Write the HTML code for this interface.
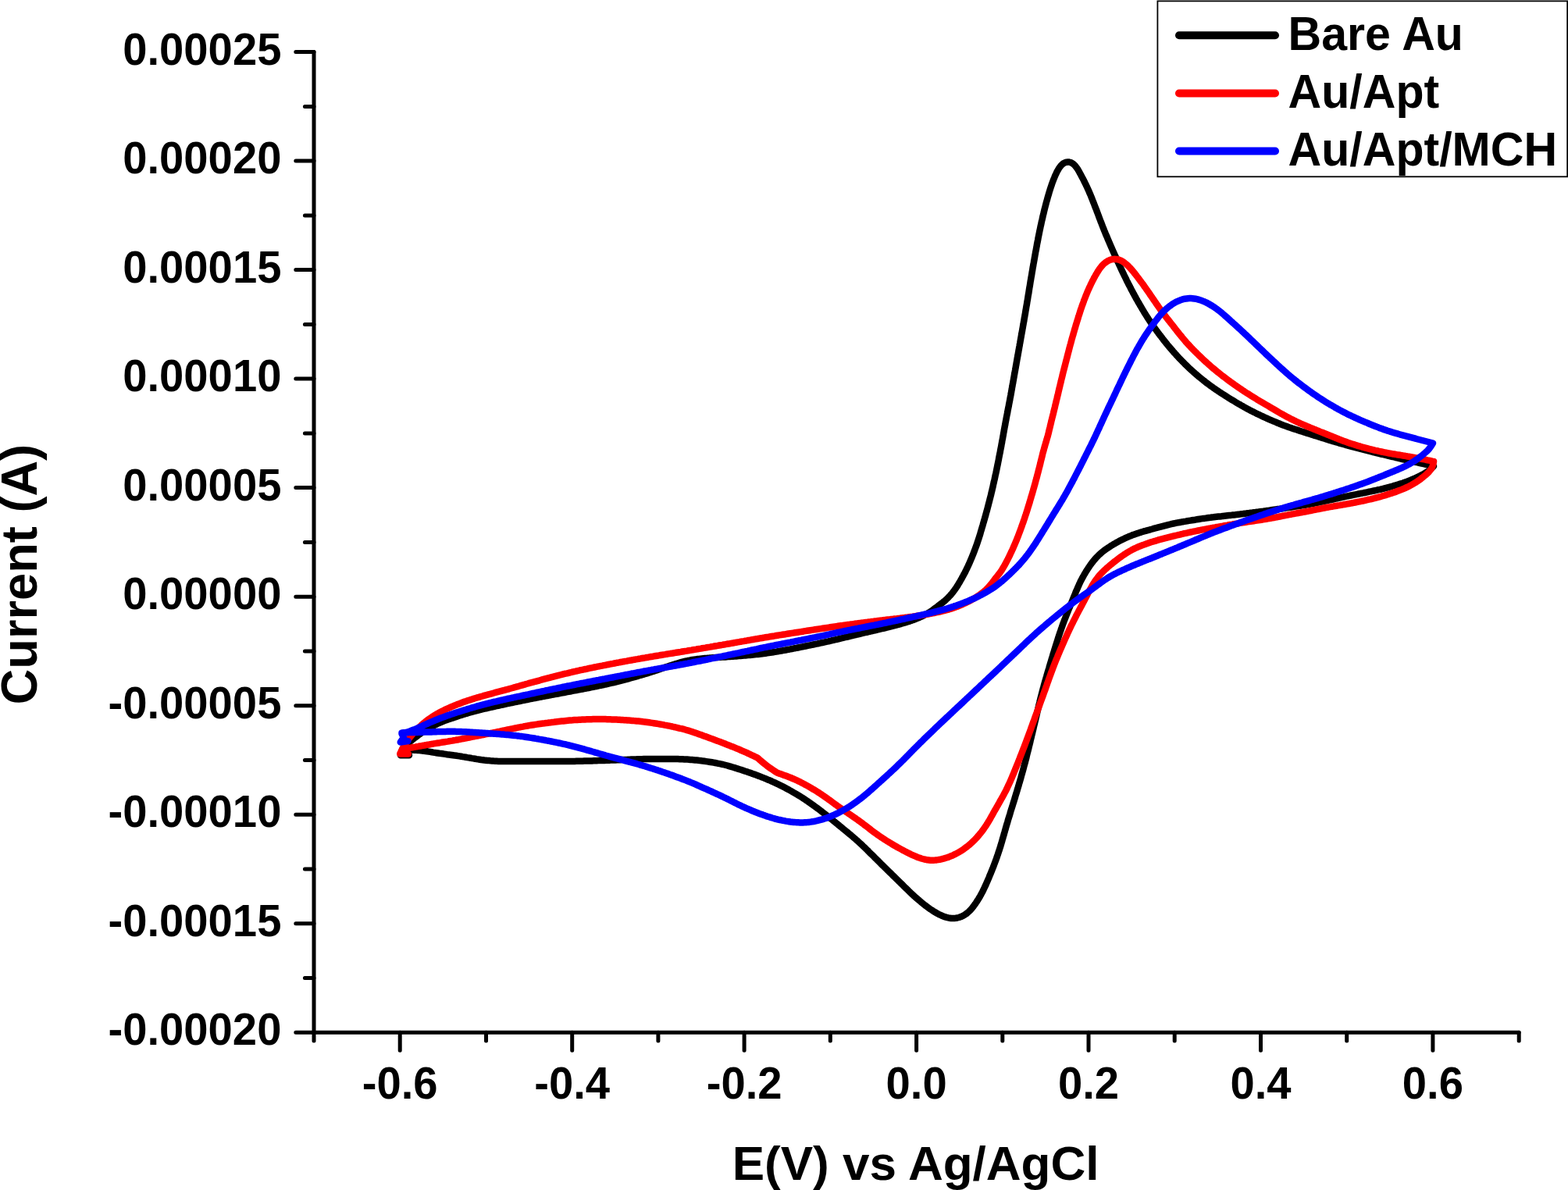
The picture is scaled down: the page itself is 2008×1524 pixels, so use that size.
<!DOCTYPE html>
<html lang="en"><head><meta charset="utf-8"><title>Cyclic voltammogram</title>
<style>html,body{margin:0;padding:0;background:#fff;overflow:hidden}svg{display:block}</style></head>
<body>
<svg width="2008" height="1524" viewBox="0 0 2008 1524">
<rect width="2008" height="1524" fill="#fff"/>
<path d="M524.0,967.3 L513.0,967.3 L515.0,960.0 L516.3,958.5 L517.5,957.0 L518.9,955.5 L520.2,954.1 L521.6,952.7 L523.1,951.4 L524.6,950.1 L526.1,948.9 L527.7,947.6 L529.3,946.4 L530.8,945.2 L532.4,944.0 L534.0,942.8 L535.6,941.6 L537.2,940.4 L538.8,939.3 L540.5,938.1 L542.2,937.0 L543.8,936.0 L545.5,934.9 L547.3,933.9 L549.0,932.9 L550.7,931.9 L552.5,930.9 L554.2,930.0 L556.0,929.0 L557.8,928.1 L559.6,927.2 L561.4,926.4 L563.2,925.6 L565.0,924.8 L566.9,924.0 L568.7,923.3 L570.6,922.6 L572.5,921.9 L574.4,921.3 L576.3,920.6 L578.2,920.0 L580.0,919.4 L581.9,918.7 L583.8,918.1 L585.7,917.5 L587.6,916.8 L589.5,916.2 L591.4,915.6 L593.4,915.0 L595.3,914.4 L597.2,913.8 L599.1,913.3 L601.0,912.7 L602.9,912.2 L604.9,911.6 L606.8,911.1 L608.7,910.6 L610.7,910.1 L612.6,909.6 L614.5,909.1 L616.5,908.6 L618.4,908.2 L620.4,907.7 L622.3,907.3 L624.3,906.8 L626.2,906.4 L628.2,905.9 L630.1,905.5 L632.1,905.1 L634.0,904.6 L636.0,904.2 L637.9,903.8 L639.9,903.3 L641.9,902.9 L643.8,902.5 L645.8,902.1 L647.7,901.7 L649.7,901.2 L651.6,900.8 L653.6,900.4 L655.5,900.0 L657.5,899.6 L659.5,899.2 L661.4,898.8 L663.4,898.4 L665.3,898.0 L667.3,897.6 L669.3,897.2 L671.2,896.8 L673.2,896.4 L675.1,896.0 L677.1,895.6 L679.1,895.2 L681.0,894.8 L683.0,894.4 L685.0,894.0 L686.9,893.7 L688.9,893.3 L690.8,892.9 L692.8,892.5 L694.8,892.1 L696.7,891.8 L698.7,891.4 L700.7,891.0 L702.6,890.7 L704.6,890.3 L706.6,889.9 L708.5,889.6 L710.5,889.2 L712.5,888.8 L714.4,888.5 L716.4,888.1 L718.4,887.7 L720.3,887.3 L722.3,887.0 L724.3,886.6 L726.2,886.2 L728.2,885.8 L730.2,885.5 L732.1,885.1 L734.1,884.7 L736.0,884.3 L738.0,884.0 L740.0,883.6 L741.9,883.2 L743.9,882.9 L745.9,882.5 L747.8,882.1 L749.8,881.7 L751.8,881.4 L753.7,881.0 L755.7,880.6 L757.7,880.2 L759.6,879.8 L761.6,879.4 L763.5,879.0 L765.5,878.6 L767.5,878.2 L769.4,877.8 L771.4,877.4 L773.3,877.0 L775.3,876.5 L777.2,876.1 L779.2,875.6 L781.1,875.2 L783.1,874.7 L785.0,874.3 L787.0,873.8 L788.9,873.3 L790.8,872.8 L792.8,872.3 L794.7,871.8 L796.7,871.3 L798.6,870.8 L800.5,870.3 L802.5,869.8 L804.4,869.3 L806.3,868.8 L808.3,868.2 L810.2,867.7 L812.1,867.2 L814.0,866.6 L816.0,866.1 L817.9,865.5 L819.8,865.0 L821.7,864.4 L823.6,863.9 L825.6,863.3 L827.5,862.7 L829.4,862.1 L831.3,861.5 L833.2,860.9 L835.1,860.3 L837.0,859.7 L838.9,859.0 L840.8,858.4 L842.7,857.7 L844.6,857.1 L846.5,856.4 L848.4,855.8 L850.2,855.1 L852.1,854.5 L854.0,853.9 L855.9,853.2 L857.8,852.6 L859.7,852.0 L861.6,851.4 L863.5,850.7 L865.5,850.1 L867.4,849.6 L869.3,849.0 L871.2,848.4 L873.1,847.9 L875.1,847.4 L877.0,846.9 L878.9,846.5 L880.9,846.0 L882.9,845.7 L884.8,845.3 L886.8,845.0 L888.8,844.7 L890.7,844.4 L892.7,844.1 L894.7,843.9 L896.7,843.7 L898.7,843.5 L900.7,843.3 L902.7,843.1 L904.7,842.9 L906.7,842.7 L908.6,842.6 L910.6,842.4 L912.6,842.3 L914.6,842.2 L916.6,842.1 L918.6,842.0 L920.6,841.8 L922.6,841.7 L924.6,841.6 L926.6,841.5 L928.6,841.4 L930.6,841.2 L932.6,841.1 L934.6,841.0 L936.6,840.8 L938.6,840.7 L940.6,840.5 L942.6,840.4 L944.6,840.2 L946.6,840.1 L948.6,839.9 L950.6,839.8 L952.5,839.6 L954.5,839.4 L956.5,839.2 L958.5,839.1 L960.5,838.9 L962.5,838.7 L964.5,838.5 L966.5,838.3 L968.5,838.1 L970.5,837.9 L972.5,837.7 L974.4,837.4 L976.4,837.2 L978.4,836.9 L980.4,836.7 L982.4,836.4 L984.4,836.1 L986.3,835.8 L988.3,835.5 L990.3,835.2 L992.3,834.9 L994.2,834.6 L996.2,834.2 L998.2,833.9 L1000.1,833.5 L1002.1,833.2 L1004.1,832.8 L1006.1,832.5 L1008.0,832.1 L1010.0,831.7 L1011.9,831.4 L1013.9,831.0 L1015.9,830.6 L1017.8,830.2 L1019.8,829.9 L1021.8,829.5 L1023.7,829.1 L1025.7,828.7 L1027.7,828.3 L1029.6,827.9 L1031.6,827.5 L1033.5,827.1 L1035.5,826.7 L1037.5,826.3 L1039.4,825.9 L1041.4,825.5 L1043.3,825.1 L1045.3,824.7 L1047.2,824.3 L1049.2,823.8 L1051.2,823.4 L1053.1,823.0 L1055.1,822.6 L1057.0,822.2 L1059.0,821.7 L1060.9,821.3 L1062.9,820.8 L1064.8,820.4 L1066.8,819.9 L1068.7,819.5 L1070.7,819.0 L1072.6,818.6 L1074.6,818.1 L1076.5,817.6 L1078.5,817.2 L1080.4,816.7 L1082.3,816.2 L1084.3,815.8 L1086.2,815.3 L1088.2,814.8 L1090.1,814.4 L1092.1,813.9 L1094.0,813.4 L1096.0,813.0 L1097.9,812.5 L1099.9,812.1 L1101.8,811.6 L1103.7,811.1 L1105.7,810.7 L1107.6,810.2 L1109.6,809.8 L1111.5,809.3 L1113.5,808.9 L1115.4,808.4 L1117.4,808.0 L1119.3,807.5 L1121.3,807.1 L1123.2,806.6 L1125.2,806.2 L1127.1,805.7 L1129.1,805.2 L1131.0,804.8 L1133.0,804.3 L1134.9,803.8 L1136.8,803.4 L1138.8,802.9 L1140.7,802.4 L1142.7,801.9 L1144.6,801.4 L1146.5,800.9 L1148.5,800.4 L1150.4,799.8 L1152.3,799.3 L1154.2,798.8 L1156.2,798.2 L1158.1,797.6 L1160.0,797.1 L1161.9,796.5 L1163.8,795.9 L1165.7,795.2 L1167.6,794.6 L1169.5,793.9 L1171.4,793.2 L1173.2,792.5 L1175.1,791.7 L1176.9,791.0 L1178.7,790.2 L1180.6,789.3 L1182.4,788.5 L1184.1,787.6 L1185.9,786.6 L1187.6,785.7 L1189.3,784.6 L1191.0,783.6 L1192.7,782.5 L1194.3,781.4 L1195.9,780.2 L1197.5,779.0 L1199.1,777.8 L1200.7,776.6 L1202.2,775.4 L1203.8,774.2 L1205.4,773.0 L1207.0,771.8 L1208.5,770.5 L1210.1,769.3 L1211.5,767.9 L1213.0,766.6 L1214.4,765.2 L1215.8,763.7 L1217.1,762.3 L1218.4,760.7 L1219.7,759.2 L1220.9,757.6 L1222.1,756.0 L1223.3,754.4 L1224.4,752.8 L1225.5,751.1 L1226.6,749.4 L1227.6,747.7 L1228.6,746.0 L1229.6,744.3 L1230.6,742.5 L1231.6,740.8 L1232.5,739.0 L1233.5,737.3 L1234.4,735.5 L1235.4,733.8 L1236.3,732.0 L1237.2,730.2 L1238.1,728.4 L1238.9,726.6 L1239.8,724.8 L1240.6,723.0 L1241.4,721.2 L1242.2,719.3 L1243.0,717.5 L1243.8,715.6 L1244.6,713.8 L1245.3,711.9 L1246.1,710.1 L1246.8,708.2 L1247.5,706.4 L1248.2,704.5 L1248.9,702.6 L1249.6,700.7 L1250.3,698.9 L1251.0,697.0 L1251.6,695.1 L1252.2,693.2 L1252.9,691.3 L1253.5,689.4 L1254.1,687.5 L1254.7,685.6 L1255.3,683.7 L1255.8,681.7 L1256.4,679.8 L1257.0,677.9 L1257.5,676.0 L1258.1,674.1 L1258.7,672.1 L1259.2,670.2 L1259.8,668.3 L1260.3,666.4 L1260.9,664.5 L1261.4,662.5 L1262.0,660.6 L1262.5,658.7 L1263.0,656.7 L1263.6,654.8 L1264.1,652.9 L1264.6,651.0 L1265.1,649.0 L1265.6,647.1 L1266.1,645.2 L1266.6,643.2 L1267.1,641.3 L1267.6,639.3 L1268.1,637.4 L1268.6,635.5 L1269.1,633.5 L1269.5,631.6 L1270.0,629.6 L1270.5,627.7 L1270.9,625.7 L1271.4,623.8 L1271.8,621.8 L1272.2,619.9 L1272.7,617.9 L1273.1,616.0 L1273.6,614.0 L1274.0,612.1 L1274.4,610.1 L1274.8,608.2 L1275.3,606.2 L1275.7,604.3 L1276.1,602.3 L1276.5,600.3 L1276.9,598.4 L1277.3,596.4 L1277.7,594.5 L1278.1,592.5 L1278.5,590.5 L1278.9,588.6 L1279.2,586.6 L1279.6,584.6 L1280.0,582.7 L1280.4,580.7 L1280.8,578.8 L1281.1,576.8 L1281.5,574.8 L1281.9,572.9 L1282.3,570.9 L1282.6,568.9 L1283.0,567.0 L1283.3,565.0 L1283.7,563.0 L1284.1,561.1 L1284.4,559.1 L1284.8,557.1 L1285.1,555.1 L1285.5,553.2 L1285.8,551.2 L1286.2,549.2 L1286.5,547.3 L1286.9,545.3 L1287.3,543.3 L1287.6,541.4 L1288.0,539.4 L1288.4,537.4 L1288.7,535.5 L1289.1,533.5 L1289.5,531.5 L1289.9,529.6 L1290.3,527.6 L1290.6,525.7 L1291.0,523.7 L1291.4,521.7 L1291.8,519.8 L1292.1,517.8 L1292.5,515.8 L1292.9,513.9 L1293.3,511.9 L1293.6,509.9 L1294.0,508.0 L1294.4,506.0 L1294.7,504.0 L1295.1,502.1 L1295.4,500.1 L1295.8,498.1 L1296.1,496.2 L1296.5,494.2 L1296.8,492.2 L1297.2,490.3 L1297.5,488.3 L1297.9,486.3 L1298.2,484.3 L1298.6,482.4 L1298.9,480.4 L1299.3,478.4 L1299.6,476.5 L1300.0,474.5 L1300.3,472.5 L1300.7,470.6 L1301.0,468.6 L1301.4,466.6 L1301.7,464.6 L1302.1,462.7 L1302.4,460.7 L1302.8,458.7 L1303.1,456.8 L1303.5,454.8 L1303.8,452.8 L1304.2,450.9 L1304.5,448.9 L1304.9,446.9 L1305.2,445.0 L1305.6,443.0 L1305.9,441.0 L1306.3,439.0 L1306.6,437.1 L1307.0,435.1 L1307.3,433.1 L1307.7,431.2 L1308.0,429.2 L1308.4,427.2 L1308.7,425.3 L1309.1,423.3 L1309.4,421.3 L1309.8,419.4 L1310.1,417.4 L1310.5,415.4 L1310.8,413.4 L1311.2,411.5 L1311.5,409.5 L1311.8,407.5 L1312.2,405.6 L1312.5,403.6 L1312.9,401.6 L1313.2,399.6 L1313.5,397.7 L1313.9,395.7 L1314.2,393.7 L1314.5,391.8 L1314.9,389.8 L1315.2,387.8 L1315.5,385.8 L1315.9,383.9 L1316.2,381.9 L1316.5,379.9 L1316.8,377.9 L1317.2,376.0 L1317.5,374.0 L1317.8,372.0 L1318.1,370.0 L1318.4,368.1 L1318.8,366.1 L1319.1,364.1 L1319.4,362.2 L1319.7,360.2 L1320.1,358.2 L1320.4,356.2 L1320.7,354.3 L1321.1,352.3 L1321.4,350.3 L1321.7,348.3 L1322.1,346.4 L1322.4,344.4 L1322.7,342.4 L1323.1,340.5 L1323.4,338.5 L1323.8,336.5 L1324.1,334.5 L1324.5,332.6 L1324.8,330.6 L1325.2,328.6 L1325.5,326.7 L1325.9,324.7 L1326.2,322.7 L1326.6,320.8 L1327.0,318.8 L1327.3,316.8 L1327.7,314.9 L1328.0,312.9 L1328.4,310.9 L1328.8,309.0 L1329.2,307.0 L1329.5,305.0 L1329.9,303.1 L1330.3,301.1 L1330.7,299.1 L1331.1,297.2 L1331.5,295.2 L1331.9,293.3 L1332.3,291.3 L1332.7,289.4 L1333.2,287.4 L1333.6,285.4 L1334.0,283.5 L1334.5,281.5 L1334.9,279.6 L1335.4,277.6 L1335.8,275.7 L1336.3,273.8 L1336.8,271.8 L1337.2,269.9 L1337.7,267.9 L1338.2,266.0 L1338.7,264.0 L1339.2,262.1 L1339.7,260.2 L1340.2,258.2 L1340.8,256.3 L1341.3,254.4 L1341.8,252.5 L1342.4,250.5 L1343.0,248.6 L1343.5,246.7 L1344.1,244.8 L1344.7,242.9 L1345.3,241.0 L1345.9,239.1 L1346.6,237.2 L1347.2,235.3 L1347.9,233.4 L1348.6,231.5 L1349.3,229.7 L1350.1,227.8 L1350.8,226.0 L1351.6,224.1 L1352.5,222.3 L1353.3,220.5 L1354.2,218.8 L1355.2,217.1 L1356.2,215.4 L1357.3,213.8 L1358.5,212.3 L1359.8,211.0 L1361.2,209.8 L1362.6,208.8 L1364.2,208.1 L1365.8,207.7 L1367.5,207.5 L1369.2,207.6 L1370.8,208.0 L1372.4,208.7 L1373.9,209.6 L1375.3,210.8 L1376.6,212.1 L1377.8,213.5 L1379.0,215.1 L1380.1,216.7 L1381.1,218.4 L1382.1,220.1 L1383.0,221.9 L1384.0,223.6 L1384.9,225.4 L1385.8,227.2 L1386.8,228.9 L1387.7,230.7 L1388.6,232.5 L1389.5,234.3 L1390.4,236.1 L1391.2,237.9 L1392.1,239.7 L1392.9,241.5 L1393.7,243.3 L1394.5,245.1 L1395.3,247.0 L1396.1,248.8 L1396.9,250.7 L1397.6,252.5 L1398.4,254.4 L1399.1,256.2 L1399.8,258.1 L1400.6,260.0 L1401.3,261.8 L1402.0,263.7 L1402.7,265.6 L1403.5,267.4 L1404.2,269.3 L1404.9,271.2 L1405.6,273.0 L1406.3,274.9 L1407.0,276.8 L1407.7,278.7 L1408.4,280.5 L1409.1,282.4 L1409.8,284.3 L1410.6,286.1 L1411.3,288.0 L1412.0,289.9 L1412.7,291.7 L1413.5,293.6 L1414.2,295.4 L1415.0,297.3 L1415.7,299.1 L1416.5,301.0 L1417.3,302.8 L1418.1,304.7 L1418.8,306.5 L1419.6,308.3 L1420.4,310.2 L1421.2,312.0 L1422.0,313.9 L1422.8,315.7 L1423.6,317.5 L1424.4,319.4 L1425.2,321.2 L1426.0,323.0 L1426.8,324.8 L1427.6,326.7 L1428.5,328.5 L1429.3,330.3 L1430.1,332.2 L1430.9,334.0 L1431.8,335.8 L1432.6,337.6 L1433.4,339.4 L1434.3,341.2 L1435.1,343.1 L1436.0,344.9 L1436.8,346.7 L1437.7,348.5 L1438.6,350.3 L1439.4,352.1 L1440.3,353.9 L1441.2,355.7 L1442.1,357.5 L1442.9,359.3 L1443.8,361.1 L1444.7,362.8 L1445.6,364.6 L1446.6,366.4 L1447.5,368.2 L1448.4,370.0 L1449.3,371.7 L1450.3,373.5 L1451.2,375.3 L1452.2,377.0 L1453.1,378.8 L1454.1,380.5 L1455.0,382.3 L1456.0,384.0 L1457.0,385.8 L1458.0,387.5 L1459.0,389.2 L1460.0,391.0 L1461.0,392.7 L1462.0,394.4 L1463.0,396.1 L1464.1,397.9 L1465.1,399.6 L1466.1,401.3 L1467.2,403.0 L1468.3,404.7 L1469.3,406.4 L1470.4,408.0 L1471.5,409.7 L1472.6,411.4 L1473.7,413.0 L1474.9,414.7 L1476.0,416.3 L1477.2,418.0 L1478.3,419.6 L1479.5,421.2 L1480.7,422.8 L1481.8,424.4 L1483.0,426.0 L1484.2,427.6 L1485.4,429.2 L1486.7,430.8 L1487.9,432.4 L1489.1,434.0 L1490.3,435.6 L1491.6,437.1 L1492.8,438.7 L1494.1,440.3 L1495.3,441.8 L1496.6,443.4 L1497.9,444.9 L1499.2,446.4 L1500.5,447.9 L1501.8,449.4 L1503.1,451.0 L1504.4,452.4 L1505.8,453.9 L1507.1,455.4 L1508.5,456.9 L1509.8,458.3 L1511.2,459.8 L1512.6,461.2 L1514.0,462.7 L1515.4,464.1 L1516.8,465.5 L1518.2,466.9 L1519.7,468.3 L1521.1,469.7 L1522.5,471.1 L1524.0,472.5 L1525.5,473.8 L1527.0,475.2 L1528.4,476.5 L1529.9,477.8 L1531.4,479.1 L1533.0,480.4 L1534.5,481.7 L1536.0,483.0 L1537.6,484.3 L1539.1,485.5 L1540.7,486.8 L1542.3,488.0 L1543.8,489.3 L1545.4,490.5 L1547.0,491.7 L1548.6,492.9 L1550.2,494.1 L1551.9,495.2 L1553.5,496.4 L1555.1,497.5 L1556.8,498.7 L1558.4,499.8 L1560.1,500.9 L1561.7,502.0 L1563.4,503.1 L1565.1,504.2 L1566.8,505.3 L1568.5,506.4 L1570.1,507.4 L1571.8,508.5 L1573.5,509.6 L1575.2,510.6 L1576.9,511.7 L1578.7,512.7 L1580.4,513.7 L1582.1,514.8 L1583.8,515.8 L1585.5,516.8 L1587.2,517.8 L1589.0,518.8 L1590.7,519.8 L1592.5,520.8 L1594.2,521.8 L1595.9,522.7 L1597.7,523.7 L1599.5,524.6 L1601.2,525.6 L1603.0,526.5 L1604.8,527.4 L1606.6,528.3 L1608.4,529.2 L1610.2,530.1 L1612.0,530.9 L1613.8,531.8 L1615.6,532.7 L1617.4,533.5 L1619.2,534.3 L1621.0,535.2 L1622.9,536.0 L1624.7,536.8 L1626.5,537.6 L1628.3,538.4 L1630.2,539.2 L1632.0,539.9 L1633.9,540.7 L1635.7,541.5 L1637.6,542.2 L1639.4,543.0 L1641.3,543.7 L1643.2,544.4 L1645.0,545.1 L1646.9,545.8 L1648.8,546.5 L1650.7,547.2 L1652.6,547.8 L1654.5,548.5 L1656.4,549.1 L1658.3,549.7 L1660.2,550.3 L1662.1,550.9 L1664.0,551.6 L1665.9,552.2 L1667.8,552.8 L1669.7,553.4 L1671.6,554.0 L1673.5,554.6 L1675.4,555.2 L1677.3,555.8 L1679.2,556.4 L1681.1,557.0 L1683.0,557.6 L1684.9,558.2 L1686.9,558.8 L1688.8,559.4 L1690.7,560.0 L1692.6,560.6 L1694.5,561.2 L1696.4,561.8 L1698.3,562.4 L1700.2,563.0 L1702.1,563.6 L1704.0,564.2 L1705.9,564.8 L1707.9,565.3 L1709.8,565.9 L1711.7,566.5 L1713.6,567.0 L1715.5,567.6 L1717.5,568.1 L1719.4,568.7 L1721.3,569.2 L1723.2,569.8 L1725.2,570.3 L1727.1,570.9 L1729.0,571.4 L1730.9,571.9 L1732.9,572.5 L1734.8,573.0 L1736.7,573.5 L1738.7,574.0 L1740.6,574.5 L1742.5,575.0 L1744.5,575.5 L1746.4,576.0 L1748.3,576.5 L1750.3,577.0 L1752.2,577.5 L1754.2,578.0 L1756.1,578.5 L1758.1,579.0 L1760.0,579.4 L1761.9,579.9 L1763.9,580.4 L1765.8,580.8 L1767.8,581.3 L1769.7,581.8 L1771.7,582.2 L1773.6,582.7 L1775.6,583.1 L1777.5,583.6 L1779.5,584.1 L1781.4,584.6 L1783.3,585.0 L1785.3,585.5 L1787.2,586.0 L1789.2,586.4 L1791.1,586.9 L1793.1,587.4 L1795.0,587.8 L1797.0,588.3 L1798.9,588.7 L1800.9,589.2 L1802.8,589.6 L1804.8,590.0 L1806.7,590.5 L1808.7,590.9 L1810.6,591.4 L1812.6,591.8 L1814.5,592.2 L1816.5,592.6 L1818.4,593.1 L1820.4,593.5 L1822.3,593.9 L1824.3,594.4 L1826.2,594.8 L1828.2,595.2 L1830.1,595.7 L1832.1,596.1 L1834.0,596.6 L1836.0,597.0 L1834.6,598.4 L1833.2,599.7 L1831.7,601.0 L1830.2,602.3 L1828.6,603.4 L1827.0,604.5 L1825.3,605.6 L1823.6,606.6 L1821.8,607.6 L1820.1,608.5 L1818.3,609.5 L1816.5,610.4 L1814.7,611.2 L1812.9,612.1 L1811.1,612.9 L1809.3,613.7 L1807.4,614.5 L1805.6,615.3 L1803.7,616.0 L1801.8,616.7 L1800.0,617.4 L1798.1,618.0 L1796.2,618.7 L1794.3,619.3 L1792.4,619.9 L1790.5,620.5 L1788.6,621.1 L1786.6,621.7 L1784.7,622.2 L1782.8,622.8 L1780.9,623.3 L1778.9,623.9 L1777.0,624.4 L1775.1,624.9 L1773.1,625.4 L1771.2,625.9 L1769.2,626.3 L1767.3,626.8 L1765.3,627.2 L1763.4,627.7 L1761.4,628.1 L1759.5,628.5 L1757.5,628.9 L1755.6,629.3 L1753.6,629.7 L1751.6,630.2 L1749.7,630.6 L1747.7,631.0 L1745.7,631.4 L1743.8,631.7 L1741.8,632.1 L1739.9,632.5 L1737.9,632.9 L1735.9,633.3 L1734.0,633.7 L1732.0,634.1 L1730.0,634.5 L1728.1,634.9 L1726.1,635.3 L1724.2,635.7 L1722.2,636.1 L1720.2,636.5 L1718.3,637.0 L1716.3,637.4 L1714.4,637.8 L1712.4,638.3 L1710.5,638.7 L1708.5,639.1 L1706.6,639.6 L1704.6,640.0 L1702.7,640.4 L1700.7,640.8 L1698.7,641.3 L1696.8,641.7 L1694.8,642.1 L1692.9,642.5 L1690.9,643.0 L1689.0,643.4 L1687.0,643.8 L1685.0,644.2 L1683.1,644.6 L1681.1,645.0 L1679.1,645.4 L1677.2,645.7 L1675.2,646.1 L1673.2,646.4 L1671.3,646.8 L1669.3,647.1 L1667.3,647.4 L1665.3,647.7 L1663.4,648.0 L1661.4,648.3 L1659.4,648.6 L1657.4,648.9 L1655.4,649.2 L1653.5,649.5 L1651.5,649.8 L1649.5,650.1 L1647.5,650.4 L1645.5,650.7 L1643.6,651.0 L1641.6,651.3 L1639.6,651.6 L1637.6,651.9 L1635.6,652.1 L1633.7,652.4 L1631.7,652.7 L1629.7,653.0 L1627.7,653.3 L1625.7,653.6 L1623.7,653.9 L1621.8,654.1 L1619.8,654.4 L1617.8,654.7 L1615.8,654.9 L1613.8,655.2 L1611.8,655.5 L1609.9,655.7 L1607.9,656.0 L1605.9,656.2 L1603.9,656.5 L1601.9,656.7 L1599.9,657.0 L1597.9,657.2 L1596.0,657.5 L1594.0,657.7 L1592.0,658.0 L1590.0,658.2 L1588.0,658.5 L1586.0,658.7 L1584.0,658.9 L1582.0,659.2 L1580.1,659.4 L1578.1,659.6 L1576.1,659.9 L1574.1,660.1 L1572.1,660.3 L1570.1,660.5 L1568.1,660.7 L1566.1,660.9 L1564.1,661.2 L1562.1,661.4 L1560.2,661.6 L1558.2,661.8 L1556.2,662.0 L1554.2,662.3 L1552.2,662.5 L1550.2,662.8 L1548.2,663.0 L1546.3,663.3 L1544.3,663.6 L1542.3,663.9 L1540.3,664.1 L1538.3,664.4 L1536.3,664.7 L1534.4,665.0 L1532.4,665.3 L1530.4,665.7 L1528.4,666.0 L1526.5,666.3 L1524.5,666.6 L1522.5,666.9 L1520.5,667.2 L1518.6,667.6 L1516.6,667.9 L1514.6,668.3 L1512.6,668.6 L1510.7,669.0 L1508.7,669.3 L1506.7,669.7 L1504.8,670.1 L1502.8,670.5 L1500.9,670.9 L1498.9,671.4 L1497.0,671.8 L1495.0,672.3 L1493.1,672.8 L1491.1,673.3 L1489.2,673.8 L1487.3,674.3 L1485.3,674.8 L1483.4,675.3 L1481.5,675.9 L1479.5,676.4 L1477.6,676.9 L1475.7,677.5 L1473.8,678.0 L1471.8,678.6 L1469.9,679.1 L1468.0,679.6 L1466.0,680.2 L1464.1,680.7 L1462.2,681.3 L1460.3,681.9 L1458.4,682.5 L1456.5,683.1 L1454.6,683.7 L1452.7,684.4 L1450.8,685.1 L1449.0,685.8 L1447.1,686.6 L1445.2,687.3 L1443.4,688.1 L1441.6,688.9 L1439.8,689.8 L1438.0,690.6 L1436.2,691.5 L1434.4,692.4 L1432.6,693.3 L1430.9,694.3 L1429.1,695.3 L1427.4,696.3 L1425.6,697.3 L1423.9,698.3 L1422.2,699.4 L1420.6,700.5 L1418.9,701.6 L1417.2,702.7 L1415.6,703.8 L1414.0,705.0 L1412.4,706.3 L1410.9,707.5 L1409.4,708.8 L1407.9,710.2 L1406.5,711.5 L1405.1,712.9 L1403.7,714.4 L1402.4,715.9 L1401.1,717.4 L1399.8,719.0 L1398.6,720.5 L1397.4,722.1 L1396.2,723.7 L1395.1,725.4 L1394.0,727.0 L1392.9,728.7 L1391.8,730.4 L1390.7,732.1 L1389.7,733.8 L1388.7,735.5 L1387.7,737.3 L1386.7,739.0 L1385.8,740.8 L1384.8,742.6 L1383.9,744.3 L1383.1,746.1 L1382.2,747.9 L1381.4,749.8 L1380.6,751.6 L1379.8,753.4 L1379.0,755.3 L1378.2,757.1 L1377.4,759.0 L1376.7,760.8 L1375.9,762.7 L1375.2,764.5 L1374.4,766.4 L1373.7,768.2 L1372.9,770.1 L1372.2,771.9 L1371.4,773.8 L1370.6,775.6 L1369.9,777.5 L1369.1,779.3 L1368.3,781.2 L1367.6,783.0 L1366.8,784.9 L1366.1,786.8 L1365.3,788.6 L1364.6,790.5 L1363.9,792.3 L1363.1,794.2 L1362.4,796.1 L1361.7,798.0 L1361.0,799.8 L1360.4,801.7 L1359.7,803.6 L1359.0,805.5 L1358.4,807.4 L1357.7,809.3 L1357.1,811.2 L1356.4,813.1 L1355.8,815.0 L1355.2,816.9 L1354.6,818.8 L1354.0,820.7 L1353.4,822.6 L1352.8,824.5 L1352.2,826.4 L1351.6,828.3 L1351.0,830.2 L1350.4,832.1 L1349.8,834.1 L1349.2,836.0 L1348.6,837.9 L1348.1,839.8 L1347.5,841.7 L1346.9,843.6 L1346.3,845.6 L1345.8,847.5 L1345.2,849.4 L1344.6,851.3 L1344.0,853.2 L1343.5,855.1 L1342.9,857.1 L1342.3,859.0 L1341.8,860.9 L1341.2,862.8 L1340.6,864.8 L1340.1,866.7 L1339.5,868.6 L1339.0,870.5 L1338.4,872.4 L1337.9,874.4 L1337.3,876.3 L1336.8,878.2 L1336.3,880.2 L1335.7,882.1 L1335.2,884.0 L1334.7,886.0 L1334.2,887.9 L1333.7,889.8 L1333.2,891.8 L1332.7,893.7 L1332.2,895.7 L1331.7,897.6 L1331.3,899.5 L1330.8,901.5 L1330.3,903.4 L1329.9,905.4 L1329.4,907.3 L1329.0,909.3 L1328.5,911.2 L1328.1,913.2 L1327.6,915.1 L1327.2,917.1 L1326.7,919.0 L1326.3,921.0 L1325.8,922.9 L1325.3,924.9 L1324.9,926.8 L1324.4,928.8 L1323.9,930.7 L1323.5,932.7 L1323.0,934.6 L1322.5,936.6 L1322.1,938.5 L1321.6,940.5 L1321.1,942.4 L1320.7,944.3 L1320.2,946.3 L1319.7,948.2 L1319.3,950.2 L1318.8,952.1 L1318.3,954.1 L1317.8,956.0 L1317.4,958.0 L1316.9,959.9 L1316.4,961.8 L1315.9,963.8 L1315.4,965.7 L1314.9,967.7 L1314.5,969.6 L1314.0,971.6 L1313.5,973.5 L1313.0,975.4 L1312.5,977.4 L1311.9,979.3 L1311.4,981.2 L1310.9,983.2 L1310.4,985.1 L1309.9,987.0 L1309.3,989.0 L1308.8,990.9 L1308.2,992.8 L1307.7,994.8 L1307.2,996.7 L1306.6,998.6 L1306.1,1000.5 L1305.5,1002.4 L1304.9,1004.4 L1304.4,1006.3 L1303.8,1008.2 L1303.2,1010.1 L1302.7,1012.0 L1302.1,1014.0 L1301.5,1015.9 L1300.9,1017.8 L1300.3,1019.7 L1299.8,1021.6 L1299.2,1023.5 L1298.6,1025.5 L1298.0,1027.4 L1297.4,1029.3 L1296.8,1031.2 L1296.2,1033.1 L1295.6,1035.0 L1295.0,1036.9 L1294.4,1038.8 L1293.8,1040.8 L1293.3,1042.7 L1292.7,1044.6 L1292.1,1046.5 L1291.5,1048.4 L1290.9,1050.3 L1290.4,1052.2 L1289.8,1054.2 L1289.2,1056.1 L1288.7,1058.0 L1288.1,1059.9 L1287.6,1061.9 L1287.0,1063.8 L1286.5,1065.7 L1285.9,1067.6 L1285.4,1069.6 L1284.8,1071.5 L1284.3,1073.4 L1283.7,1075.3 L1283.2,1077.3 L1282.6,1079.2 L1282.0,1081.1 L1281.5,1083.0 L1280.9,1084.9 L1280.3,1086.8 L1279.7,1088.7 L1279.0,1090.6 L1278.4,1092.5 L1277.8,1094.4 L1277.1,1096.3 L1276.5,1098.2 L1275.8,1100.1 L1275.1,1102.0 L1274.4,1103.9 L1273.7,1105.7 L1273.0,1107.6 L1272.3,1109.5 L1271.6,1111.3 L1270.8,1113.2 L1270.1,1115.1 L1269.3,1116.9 L1268.6,1118.8 L1267.8,1120.6 L1267.0,1122.5 L1266.3,1124.3 L1265.5,1126.2 L1264.7,1128.0 L1263.9,1129.8 L1263.1,1131.7 L1262.3,1133.5 L1261.4,1135.3 L1260.6,1137.1 L1259.7,1138.9 L1258.9,1140.7 L1258.0,1142.5 L1257.0,1144.3 L1256.1,1146.0 L1255.1,1147.8 L1254.1,1149.5 L1253.1,1151.2 L1252.0,1152.9 L1250.9,1154.6 L1249.8,1156.3 L1248.7,1157.9 L1247.5,1159.5 L1246.3,1161.1 L1245.1,1162.7 L1243.8,1164.2 L1242.5,1165.7 L1241.1,1167.1 L1239.6,1168.4 L1238.1,1169.7 L1236.6,1170.8 L1234.9,1171.9 L1233.2,1172.9 L1231.5,1173.7 L1229.7,1174.4 L1227.8,1175.0 L1225.9,1175.5 L1224.0,1175.8 L1222.1,1176.0 L1220.1,1176.0 L1218.2,1176.0 L1216.3,1175.7 L1214.4,1175.4 L1212.4,1174.9 L1210.6,1174.4 L1208.7,1173.7 L1206.8,1173.0 L1205.0,1172.2 L1203.2,1171.4 L1201.5,1170.5 L1199.7,1169.5 L1198.0,1168.5 L1196.2,1167.5 L1194.6,1166.4 L1192.9,1165.3 L1191.2,1164.2 L1189.6,1163.1 L1188.0,1161.9 L1186.4,1160.7 L1184.8,1159.5 L1183.2,1158.2 L1181.7,1157.0 L1180.1,1155.7 L1178.6,1154.4 L1177.1,1153.1 L1175.5,1151.8 L1174.0,1150.5 L1172.5,1149.2 L1171.0,1147.9 L1169.6,1146.5 L1168.1,1145.2 L1166.6,1143.8 L1165.2,1142.4 L1163.7,1141.0 L1162.3,1139.6 L1160.9,1138.2 L1159.4,1136.8 L1158.0,1135.4 L1156.6,1134.0 L1155.2,1132.6 L1153.7,1131.2 L1152.3,1129.8 L1150.9,1128.4 L1149.5,1127.0 L1148.0,1125.6 L1146.6,1124.2 L1145.2,1122.8 L1143.7,1121.4 L1142.3,1120.0 L1140.9,1118.6 L1139.4,1117.2 L1138.0,1115.8 L1136.6,1114.4 L1135.2,1113.0 L1133.7,1111.6 L1132.3,1110.2 L1130.9,1108.8 L1129.4,1107.4 L1128.0,1106.0 L1126.6,1104.6 L1125.2,1103.1 L1123.7,1101.7 L1122.3,1100.3 L1120.9,1098.9 L1119.5,1097.5 L1118.1,1096.1 L1116.7,1094.7 L1115.2,1093.3 L1113.8,1091.9 L1112.4,1090.5 L1111.0,1089.0 L1109.5,1087.6 L1108.1,1086.2 L1106.7,1084.9 L1105.2,1083.5 L1103.8,1082.1 L1102.3,1080.7 L1100.8,1079.4 L1099.3,1078.0 L1097.9,1076.7 L1096.4,1075.4 L1094.9,1074.0 L1093.3,1072.7 L1091.8,1071.4 L1090.3,1070.1 L1088.8,1068.8 L1087.2,1067.6 L1085.7,1066.3 L1084.2,1065.0 L1082.6,1063.7 L1081.1,1062.5 L1079.5,1061.2 L1078.0,1059.9 L1076.4,1058.7 L1074.9,1057.4 L1073.3,1056.1 L1071.8,1054.8 L1070.2,1053.6 L1068.7,1052.3 L1067.1,1051.1 L1065.6,1049.8 L1064.0,1048.5 L1062.4,1047.3 L1060.9,1046.0 L1059.3,1044.8 L1057.7,1043.5 L1056.2,1042.3 L1054.6,1041.1 L1053.0,1039.9 L1051.4,1038.6 L1049.8,1037.4 L1048.2,1036.2 L1046.6,1035.0 L1045.0,1033.8 L1043.4,1032.7 L1041.8,1031.5 L1040.1,1030.3 L1038.5,1029.2 L1036.9,1028.0 L1035.2,1026.9 L1033.6,1025.7 L1031.9,1024.6 L1030.3,1023.5 L1028.6,1022.4 L1026.9,1021.3 L1025.2,1020.2 L1023.5,1019.2 L1021.8,1018.1 L1020.1,1017.1 L1018.4,1016.1 L1016.6,1015.1 L1014.9,1014.1 L1013.2,1013.1 L1011.4,1012.1 L1009.7,1011.1 L1007.9,1010.2 L1006.1,1009.2 L1004.4,1008.3 L1002.6,1007.4 L1000.8,1006.5 L999.0,1005.6 L997.2,1004.7 L995.4,1003.9 L993.6,1003.0 L991.8,1002.2 L990.0,1001.4 L988.1,1000.5 L986.3,999.7 L984.5,998.9 L982.6,998.2 L980.8,997.4 L978.9,996.6 L977.1,995.9 L975.2,995.2 L973.3,994.4 L971.5,993.7 L969.6,993.0 L967.7,992.3 L965.8,991.6 L963.9,991.0 L962.1,990.3 L960.2,989.6 L958.3,989.0 L956.4,988.3 L954.5,987.7 L952.6,987.1 L950.7,986.4 L948.8,985.8 L946.9,985.2 L945.0,984.6 L943.1,984.0 L941.2,983.4 L939.2,982.8 L937.3,982.2 L935.4,981.6 L933.5,981.1 L931.6,980.5 L929.6,980.0 L927.7,979.5 L925.7,979.0 L923.8,978.6 L921.8,978.2 L919.9,977.8 L917.9,977.4 L916.0,977.0 L914.0,976.6 L912.0,976.3 L910.0,976.0 L908.1,975.7 L906.1,975.4 L904.1,975.1 L902.1,974.8 L900.1,974.6 L898.1,974.3 L896.2,974.1 L894.2,973.8 L892.2,973.6 L890.2,973.4 L888.2,973.2 L886.2,973.0 L884.2,972.9 L882.2,972.7 L880.2,972.6 L878.2,972.5 L876.2,972.4 L874.2,972.3 L872.2,972.2 L870.2,972.2 L868.2,972.1 L866.2,972.1 L864.2,972.0 L862.2,972.0 L860.2,972.0 L858.2,972.0 L856.2,971.9 L854.2,971.9 L852.2,971.9 L850.2,971.9 L848.2,971.9 L846.2,971.9 L844.2,971.9 L842.2,971.9 L840.2,971.9 L838.2,971.9 L836.2,972.0 L834.2,972.0 L832.2,972.0 L830.2,972.0 L828.2,972.1 L826.2,972.1 L824.2,972.1 L822.2,972.2 L820.2,972.2 L818.2,972.3 L816.2,972.3 L814.2,972.4 L812.2,972.5 L810.2,972.6 L808.2,972.6 L806.2,972.7 L804.2,972.8 L802.2,972.9 L800.2,972.9 L798.2,973.0 L796.2,973.1 L794.2,973.2 L792.2,973.3 L790.2,973.3 L788.2,973.4 L786.2,973.5 L784.2,973.5 L782.2,973.6 L780.2,973.7 L778.2,973.7 L776.2,973.8 L774.2,973.9 L772.2,973.9 L770.2,974.0 L768.2,974.1 L766.2,974.1 L764.2,974.2 L762.2,974.2 L760.2,974.3 L758.2,974.4 L756.2,974.4 L754.2,974.5 L752.2,974.5 L750.2,974.6 L748.2,974.6 L746.2,974.7 L744.2,974.7 L742.2,974.8 L740.2,974.8 L738.1,974.8 L736.1,974.9 L734.1,974.9 L732.1,974.9 L730.1,975.0 L728.1,975.0 L726.1,975.0 L724.1,975.0 L722.1,975.1 L720.1,975.1 L718.1,975.1 L716.1,975.1 L714.1,975.1 L712.1,975.1 L710.1,975.1 L708.1,975.1 L706.1,975.1 L704.1,975.1 L702.1,975.1 L700.1,975.1 L698.1,975.1 L696.1,975.0 L694.1,975.0 L692.1,975.0 L690.1,975.0 L688.1,975.0 L686.1,975.0 L684.1,975.0 L682.1,975.0 L680.1,975.0 L678.1,975.0 L676.1,975.0 L674.1,975.0 L672.1,975.0 L670.1,975.1 L668.1,975.1 L666.1,975.1 L664.1,975.1 L662.1,975.1 L660.1,975.1 L658.1,975.1 L656.1,975.1 L654.1,975.1 L652.1,975.1 L650.1,975.1 L648.1,975.1 L646.1,975.1 L644.1,975.0 L642.1,975.0 L640.1,974.9 L638.1,974.9 L636.1,974.8 L634.1,974.7 L632.1,974.6 L630.1,974.4 L628.1,974.3 L626.1,974.1 L624.1,973.9 L622.1,973.7 L620.1,973.5 L618.1,973.2 L616.1,973.0 L614.2,972.7 L612.2,972.4 L610.2,972.1 L608.2,971.7 L606.3,971.4 L604.3,971.1 L602.3,970.7 L600.3,970.4 L598.4,970.1 L596.4,969.7 L594.4,969.4 L592.4,969.1 L590.5,968.7 L588.5,968.4 L586.5,968.1 L584.5,967.8 L582.5,967.6 L580.6,967.3 L578.6,967.0 L576.6,966.7 L574.6,966.4 L572.6,966.2 L570.7,965.9 L568.7,965.6 L566.7,965.3 L564.7,965.0 L562.7,964.8 L560.7,964.5 L558.8,964.2 L556.8,963.9 L554.8,963.6 L552.8,963.2 L550.9,962.9 L548.9,962.6 L546.9,962.3 L544.9,962.0 L542.9,961.8 L541.0,961.5 L539.0,961.3 L537.0,961.1 L535.0,960.9 L533.0,960.8 L531.0,960.7 L529.0,960.5 L527.0,960.4 L525.0,960.3 L523.0,960.3 L521.0,960.2 L519.0,960.1 L517.0,960.0" fill="none" stroke="#000" stroke-width="8.5" stroke-linecap="round" stroke-linejoin="round"/>
<path d="M522.9,965.4 L512.3,965.4 L515.5,958.5 L516.5,956.8 L517.5,955.1 L518.6,953.4 L519.7,951.7 L520.8,950.0 L521.9,948.4 L523.1,946.8 L524.3,945.2 L525.5,943.6 L526.8,942.1 L528.1,940.5 L529.4,939.0 L530.7,937.6 L532.1,936.1 L533.5,934.6 L534.9,933.2 L536.3,931.8 L537.7,930.4 L539.2,929.1 L540.7,927.7 L542.2,926.4 L543.7,925.2 L545.3,923.9 L546.9,922.7 L548.5,921.5 L550.1,920.3 L551.8,919.2 L553.4,918.1 L555.1,917.0 L556.8,916.0 L558.5,914.9 L560.2,913.9 L562.0,913.0 L563.7,912.0 L565.5,911.1 L567.3,910.2 L569.1,909.3 L570.9,908.4 L572.7,907.6 L574.5,906.8 L576.4,906.0 L578.2,905.2 L580.1,904.4 L581.9,903.6 L583.8,902.9 L585.6,902.1 L587.5,901.4 L589.4,900.7 L591.2,900.0 L593.1,899.3 L595.0,898.6 L596.9,898.0 L598.8,897.3 L600.7,896.7 L602.6,896.1 L604.5,895.5 L606.4,894.9 L608.3,894.3 L610.2,893.7 L612.2,893.2 L614.1,892.6 L616.0,892.0 L617.9,891.5 L619.8,890.9 L621.8,890.4 L623.7,889.9 L625.6,889.3 L627.6,888.8 L629.5,888.3 L631.4,887.8 L633.4,887.2 L635.3,886.7 L637.2,886.2 L639.2,885.7 L641.1,885.2 L643.0,884.7 L645.0,884.2 L646.9,883.6 L648.8,883.1 L650.8,882.6 L652.7,882.0 L654.6,881.5 L656.5,881.0 L658.5,880.4 L660.4,879.9 L662.3,879.3 L664.2,878.8 L666.2,878.2 L668.1,877.7 L670.0,877.1 L671.9,876.6 L673.9,876.0 L675.8,875.5 L677.7,874.9 L679.7,874.4 L681.6,873.9 L683.5,873.4 L685.5,872.8 L687.4,872.3 L689.3,871.8 L691.2,871.3 L693.2,870.7 L695.1,870.2 L697.0,869.7 L699.0,869.2 L700.9,868.7 L702.9,868.2 L704.8,867.6 L706.7,867.1 L708.7,866.6 L710.6,866.1 L712.5,865.6 L714.5,865.1 L716.4,864.6 L718.4,864.2 L720.3,863.7 L722.2,863.2 L724.2,862.7 L726.1,862.3 L728.1,861.8 L730.0,861.3 L732.0,860.9 L733.9,860.4 L735.9,860.0 L737.8,859.5 L739.8,859.1 L741.7,858.7 L743.7,858.2 L745.7,857.8 L747.6,857.4 L749.6,857.0 L751.5,856.6 L753.5,856.1 L755.4,855.7 L757.4,855.3 L759.4,854.9 L761.3,854.5 L763.3,854.1 L765.3,853.7 L767.2,853.3 L769.2,852.9 L771.1,852.6 L773.1,852.2 L775.1,851.8 L777.0,851.4 L779.0,851.0 L781.0,850.6 L782.9,850.2 L784.9,849.9 L786.9,849.5 L788.8,849.1 L790.8,848.7 L792.8,848.4 L794.7,848.0 L796.7,847.6 L798.7,847.3 L800.6,846.9 L802.6,846.6 L804.6,846.2 L806.5,845.8 L808.5,845.5 L810.5,845.1 L812.5,844.8 L814.4,844.4 L816.4,844.1 L818.4,843.7 L820.3,843.4 L822.3,843.0 L824.3,842.7 L826.3,842.4 L828.2,842.0 L830.2,841.7 L832.2,841.3 L834.2,841.0 L836.1,840.7 L838.1,840.3 L840.1,840.0 L842.1,839.7 L844.0,839.4 L846.0,839.0 L848.0,838.7 L850.0,838.4 L851.9,838.1 L853.9,837.7 L855.9,837.4 L857.9,837.1 L859.8,836.8 L861.8,836.5 L863.8,836.1 L865.8,835.8 L867.7,835.5 L869.7,835.2 L871.7,834.9 L873.7,834.5 L875.6,834.2 L877.6,833.9 L879.6,833.6 L881.6,833.2 L883.5,832.9 L885.5,832.6 L887.5,832.2 L889.5,831.9 L891.4,831.6 L893.4,831.2 L895.4,830.9 L897.4,830.6 L899.3,830.2 L901.3,829.9 L903.3,829.6 L905.3,829.2 L907.2,828.9 L909.2,828.6 L911.2,828.2 L913.1,827.9 L915.1,827.5 L917.1,827.2 L919.1,826.9 L921.0,826.5 L923.0,826.2 L925.0,825.9 L927.0,825.5 L928.9,825.2 L930.9,824.8 L932.9,824.5 L934.9,824.2 L936.8,823.8 L938.8,823.5 L940.8,823.1 L942.7,822.8 L944.7,822.4 L946.7,822.1 L948.7,821.7 L950.6,821.4 L952.6,821.1 L954.6,820.7 L956.5,820.4 L958.5,820.0 L960.5,819.7 L962.5,819.3 L964.4,819.0 L966.4,818.6 L968.4,818.3 L970.3,818.0 L972.3,817.6 L974.3,817.3 L976.3,817.0 L978.2,816.6 L980.2,816.3 L982.2,816.0 L984.2,815.7 L986.1,815.3 L988.1,815.0 L990.1,814.7 L992.1,814.4 L994.0,814.0 L996.0,813.7 L998.0,813.4 L1000.0,813.1 L1002.0,812.8 L1003.9,812.5 L1005.9,812.2 L1007.9,811.8 L1009.9,811.5 L1011.8,811.2 L1013.8,810.9 L1015.8,810.6 L1017.8,810.3 L1019.8,810.0 L1021.7,809.7 L1023.7,809.4 L1025.7,809.1 L1027.7,808.8 L1029.6,808.4 L1031.6,808.1 L1033.6,807.8 L1035.6,807.5 L1037.6,807.2 L1039.5,806.9 L1041.5,806.6 L1043.5,806.3 L1045.5,806.0 L1047.5,805.7 L1049.4,805.4 L1051.4,805.1 L1053.4,804.8 L1055.4,804.5 L1057.3,804.2 L1059.3,803.9 L1061.3,803.6 L1063.3,803.3 L1065.3,803.0 L1067.2,802.7 L1069.2,802.4 L1071.2,802.1 L1073.2,801.8 L1075.2,801.5 L1077.1,801.2 L1079.1,801.0 L1081.1,800.7 L1083.1,800.4 L1085.1,800.1 L1087.1,799.9 L1089.0,799.6 L1091.0,799.4 L1093.0,799.1 L1095.0,798.8 L1097.0,798.6 L1099.0,798.3 L1101.0,798.1 L1102.9,797.8 L1104.9,797.6 L1106.9,797.3 L1108.9,797.0 L1110.9,796.8 L1112.9,796.5 L1114.9,796.3 L1116.8,796.0 L1118.8,795.8 L1120.8,795.5 L1122.8,795.3 L1124.8,795.0 L1126.8,794.8 L1128.8,794.6 L1130.8,794.3 L1132.7,794.1 L1134.7,793.8 L1136.7,793.6 L1138.7,793.4 L1140.7,793.1 L1142.7,792.9 L1144.7,792.6 L1146.7,792.4 L1148.6,792.2 L1150.6,791.9 L1152.6,791.7 L1154.6,791.4 L1156.6,791.2 L1158.6,791.0 L1160.6,790.7 L1162.5,790.5 L1164.5,790.2 L1166.5,789.9 L1168.5,789.7 L1170.5,789.4 L1172.5,789.1 L1174.4,788.8 L1176.4,788.5 L1178.4,788.2 L1180.4,787.9 L1182.4,787.6 L1184.3,787.3 L1186.3,786.9 L1188.3,786.6 L1190.2,786.2 L1192.2,785.8 L1194.2,785.4 L1196.1,785.0 L1198.1,784.6 L1200.0,784.2 L1202.0,783.8 L1203.9,783.3 L1205.9,782.8 L1207.8,782.4 L1209.8,781.9 L1211.7,781.3 L1213.6,780.8 L1215.6,780.3 L1217.5,779.7 L1219.4,779.1 L1221.3,778.4 L1223.2,777.8 L1225.0,777.1 L1226.9,776.4 L1228.7,775.6 L1230.6,774.8 L1232.4,774.0 L1234.2,773.2 L1236.1,772.4 L1237.9,771.5 L1239.6,770.6 L1241.4,769.7 L1243.2,768.7 L1244.9,767.8 L1246.7,766.8 L1248.4,765.8 L1250.1,764.7 L1251.8,763.6 L1253.5,762.5 L1255.1,761.4 L1256.7,760.2 L1258.3,759.0 L1259.8,757.8 L1261.3,756.5 L1262.8,755.1 L1264.2,753.7 L1265.6,752.3 L1266.9,750.8 L1268.2,749.3 L1269.4,747.7 L1270.7,746.2 L1271.9,744.6 L1273.1,743.0 L1274.3,741.4 L1275.6,739.9 L1276.8,738.3 L1278.0,736.7 L1279.2,735.2 L1280.4,733.6 L1281.6,731.9 L1282.7,730.3 L1283.7,728.6 L1284.8,726.9 L1285.8,725.2 L1286.8,723.4 L1287.7,721.7 L1288.7,719.9 L1289.6,718.1 L1290.5,716.4 L1291.4,714.6 L1292.3,712.8 L1293.2,711.0 L1294.0,709.2 L1294.9,707.4 L1295.7,705.6 L1296.6,703.7 L1297.4,701.9 L1298.2,700.1 L1299.0,698.3 L1299.8,696.4 L1300.6,694.6 L1301.3,692.7 L1302.1,690.9 L1302.8,689.0 L1303.6,687.1 L1304.3,685.3 L1305.0,683.4 L1305.7,681.5 L1306.4,679.7 L1307.1,677.8 L1307.8,675.9 L1308.5,674.0 L1309.1,672.1 L1309.8,670.2 L1310.5,668.4 L1311.1,666.5 L1311.8,664.6 L1312.4,662.7 L1313.0,660.8 L1313.7,658.9 L1314.3,657.0 L1314.9,655.1 L1315.5,653.2 L1316.1,651.2 L1316.7,649.3 L1317.3,647.4 L1317.9,645.5 L1318.5,643.6 L1319.0,641.7 L1319.6,639.8 L1320.2,637.8 L1320.7,635.9 L1321.3,634.0 L1321.9,632.1 L1322.4,630.2 L1323.0,628.2 L1323.5,626.3 L1324.1,624.4 L1324.6,622.5 L1325.2,620.5 L1325.7,618.6 L1326.2,616.7 L1326.7,614.7 L1327.3,612.8 L1327.8,610.9 L1328.3,608.9 L1328.8,607.0 L1329.3,605.1 L1329.8,603.1 L1330.3,601.2 L1330.8,599.2 L1331.3,597.3 L1331.8,595.4 L1332.3,593.4 L1332.7,591.5 L1333.2,589.5 L1333.7,587.6 L1334.2,585.6 L1334.7,583.7 L1335.1,581.8 L1335.6,579.8 L1336.2,577.9 L1336.7,576.0 L1337.2,574.0 L1337.8,572.1 L1338.3,570.2 L1338.9,568.3 L1339.5,566.3 L1340.0,564.4 L1340.6,562.5 L1341.1,560.6 L1341.7,558.7 L1342.2,556.7 L1342.7,554.8 L1343.2,552.8 L1343.6,550.9 L1344.1,548.9 L1344.6,547.0 L1345.0,545.1 L1345.5,543.1 L1346.0,541.2 L1346.4,539.2 L1346.9,537.3 L1347.4,535.3 L1347.9,533.4 L1348.4,531.4 L1348.9,529.5 L1349.3,527.6 L1349.8,525.6 L1350.3,523.7 L1350.8,521.7 L1351.2,519.8 L1351.7,517.8 L1352.2,515.9 L1352.6,513.9 L1353.1,512.0 L1353.6,510.0 L1354.0,508.1 L1354.5,506.2 L1355.0,504.2 L1355.4,502.3 L1355.9,500.3 L1356.3,498.4 L1356.8,496.4 L1357.3,494.5 L1357.7,492.5 L1358.2,490.6 L1358.7,488.6 L1359.1,486.7 L1359.6,484.7 L1360.1,482.8 L1360.6,480.8 L1361.0,478.9 L1361.5,477.0 L1362.0,475.0 L1362.5,473.1 L1363.0,471.1 L1363.5,469.2 L1364.0,467.3 L1364.5,465.3 L1365.0,463.4 L1365.5,461.4 L1366.0,459.5 L1366.5,457.6 L1367.0,455.6 L1367.5,453.7 L1368.0,451.7 L1368.5,449.8 L1369.0,447.9 L1369.5,445.9 L1370.0,444.0 L1370.5,442.1 L1371.1,440.1 L1371.6,438.2 L1372.1,436.3 L1372.6,434.3 L1373.2,432.4 L1373.7,430.5 L1374.3,428.6 L1374.8,426.6 L1375.4,424.7 L1375.9,422.8 L1376.5,420.9 L1377.1,419.0 L1377.6,417.0 L1378.2,415.1 L1378.8,413.2 L1379.4,411.3 L1380.0,409.4 L1380.6,407.5 L1381.1,405.5 L1381.8,403.6 L1382.4,401.7 L1383.0,399.8 L1383.6,397.9 L1384.2,396.0 L1384.9,394.1 L1385.5,392.2 L1386.2,390.4 L1386.9,388.5 L1387.6,386.6 L1388.2,384.7 L1389.0,382.8 L1389.7,381.0 L1390.4,379.1 L1391.2,377.3 L1391.9,375.4 L1392.7,373.6 L1393.5,371.7 L1394.3,369.9 L1395.1,368.1 L1396.0,366.2 L1396.8,364.4 L1397.7,362.6 L1398.6,360.8 L1399.5,359.1 L1400.4,357.3 L1401.3,355.5 L1402.3,353.8 L1403.3,352.0 L1404.3,350.3 L1405.3,348.6 L1406.4,346.9 L1407.5,345.2 L1408.6,343.6 L1409.8,342.1 L1411.1,340.5 L1412.4,339.1 L1413.8,337.7 L1415.3,336.5 L1416.9,335.3 L1418.5,334.3 L1420.2,333.4 L1421.9,332.8 L1423.7,332.2 L1425.5,331.9 L1427.4,331.8 L1429.2,331.9 L1431.1,332.2 L1432.9,332.7 L1434.7,333.4 L1436.4,334.2 L1438.1,335.2 L1439.7,336.3 L1441.2,337.5 L1442.7,338.7 L1444.2,340.1 L1445.6,341.5 L1447.0,342.9 L1448.3,344.4 L1449.6,345.9 L1450.9,347.4 L1452.2,349.0 L1453.4,350.5 L1454.7,352.1 L1455.9,353.7 L1457.1,355.3 L1458.3,356.9 L1459.5,358.5 L1460.7,360.1 L1461.9,361.7 L1463.1,363.3 L1464.3,364.9 L1465.4,366.6 L1466.6,368.2 L1467.7,369.8 L1468.9,371.5 L1470.0,373.1 L1471.2,374.8 L1472.3,376.4 L1473.4,378.1 L1474.6,379.7 L1475.7,381.4 L1476.8,383.0 L1478.0,384.7 L1479.1,386.3 L1480.2,388.0 L1481.3,389.6 L1482.5,391.3 L1483.6,392.9 L1484.8,394.6 L1485.9,396.2 L1487.1,397.8 L1488.3,399.4 L1489.4,401.1 L1490.7,402.7 L1491.9,404.2 L1493.1,405.8 L1494.3,407.4 L1495.6,409.0 L1496.8,410.5 L1498.1,412.1 L1499.3,413.7 L1500.5,415.3 L1501.8,416.8 L1503.0,418.4 L1504.2,420.0 L1505.5,421.6 L1506.7,423.1 L1507.9,424.7 L1509.2,426.3 L1510.4,427.8 L1511.7,429.4 L1513.0,430.9 L1514.2,432.5 L1515.5,434.0 L1516.8,435.5 L1518.1,437.1 L1519.4,438.6 L1520.8,440.1 L1522.1,441.5 L1523.5,443.0 L1524.8,444.5 L1526.2,445.9 L1527.6,447.4 L1529.0,448.8 L1530.4,450.2 L1531.8,451.6 L1533.2,453.0 L1534.7,454.4 L1536.1,455.8 L1537.6,457.2 L1539.0,458.6 L1540.5,460.0 L1541.9,461.3 L1543.4,462.7 L1544.9,464.0 L1546.4,465.4 L1547.9,466.7 L1549.4,468.0 L1550.9,469.4 L1552.4,470.7 L1553.9,472.0 L1555.5,473.2 L1557.0,474.5 L1558.5,475.8 L1560.1,477.0 L1561.7,478.3 L1563.2,479.5 L1564.8,480.8 L1566.4,482.0 L1568.0,483.2 L1569.6,484.4 L1571.2,485.6 L1572.8,486.8 L1574.4,488.0 L1576.0,489.2 L1577.6,490.3 L1579.3,491.5 L1580.9,492.7 L1582.5,493.8 L1584.2,495.0 L1585.8,496.1 L1587.5,497.2 L1589.1,498.3 L1590.8,499.5 L1592.5,500.6 L1594.1,501.7 L1595.8,502.8 L1597.5,503.8 L1599.2,504.9 L1600.9,506.0 L1602.6,507.1 L1604.3,508.1 L1606.0,509.2 L1607.7,510.2 L1609.4,511.3 L1611.1,512.3 L1612.8,513.3 L1614.5,514.3 L1616.3,515.4 L1618.0,516.4 L1619.7,517.4 L1621.4,518.4 L1623.2,519.4 L1624.9,520.4 L1626.6,521.5 L1628.3,522.5 L1630.1,523.5 L1631.8,524.5 L1633.5,525.5 L1635.2,526.5 L1637.0,527.6 L1638.7,528.6 L1640.4,529.6 L1642.2,530.5 L1643.9,531.5 L1645.7,532.5 L1647.4,533.5 L1649.2,534.4 L1651.0,535.3 L1652.7,536.2 L1654.5,537.2 L1656.3,538.0 L1658.1,538.9 L1659.9,539.8 L1661.7,540.6 L1663.6,541.5 L1665.4,542.3 L1667.2,543.1 L1669.0,543.9 L1670.9,544.7 L1672.7,545.5 L1674.6,546.3 L1676.4,547.0 L1678.3,547.8 L1680.1,548.6 L1682.0,549.3 L1683.8,550.1 L1685.7,550.8 L1687.5,551.6 L1689.4,552.3 L1691.3,553.1 L1693.1,553.8 L1695.0,554.5 L1696.8,555.3 L1698.7,556.0 L1700.5,556.8 L1702.4,557.5 L1704.3,558.3 L1706.1,559.0 L1708.0,559.8 L1709.8,560.5 L1711.7,561.3 L1713.5,562.0 L1715.4,562.8 L1717.3,563.5 L1719.1,564.2 L1721.0,564.9 L1722.9,565.6 L1724.8,566.3 L1726.6,567.0 L1728.5,567.6 L1730.4,568.2 L1732.3,568.8 L1734.3,569.4 L1736.2,570.0 L1738.1,570.6 L1740.0,571.2 L1741.9,571.7 L1743.9,572.3 L1745.8,572.8 L1747.7,573.3 L1749.6,573.8 L1751.6,574.4 L1753.5,574.9 L1755.5,575.3 L1757.4,575.8 L1759.3,576.3 L1761.3,576.8 L1763.2,577.2 L1765.2,577.7 L1767.2,578.1 L1769.1,578.5 L1771.1,578.9 L1773.0,579.3 L1775.0,579.7 L1777.0,580.1 L1778.9,580.5 L1780.9,580.8 L1782.9,581.2 L1784.8,581.5 L1786.8,581.8 L1788.8,582.2 L1790.8,582.5 L1792.7,582.8 L1794.7,583.1 L1796.7,583.5 L1798.7,583.8 L1800.6,584.1 L1802.6,584.5 L1804.6,584.8 L1806.6,585.1 L1808.5,585.5 L1810.5,585.8 L1812.5,586.2 L1814.4,586.5 L1816.4,586.9 L1818.4,587.3 L1820.3,587.7 L1822.3,588.0 L1824.3,588.4 L1826.2,588.8 L1828.2,589.3 L1830.1,589.7 L1832.1,590.1 L1834.0,590.6 L1836.0,591.0 L1835.7,592.8 L1835.3,594.6 L1834.8,596.3 L1834.2,598.0 L1833.4,599.7 L1832.4,601.2 L1831.2,602.7 L1830.0,604.2 L1828.6,605.6 L1827.2,606.9 L1825.7,608.3 L1824.2,609.5 L1822.6,610.8 L1821.0,612.0 L1819.5,613.3 L1817.9,614.5 L1816.2,615.6 L1814.6,616.8 L1812.9,617.9 L1811.2,618.9 L1809.5,619.9 L1807.8,620.9 L1806.0,621.9 L1804.3,622.8 L1802.5,623.7 L1800.6,624.5 L1798.8,625.3 L1797.0,626.1 L1795.1,626.9 L1793.3,627.6 L1791.4,628.3 L1789.5,629.0 L1787.7,629.7 L1785.8,630.4 L1783.9,631.0 L1782.0,631.7 L1780.1,632.3 L1778.2,632.9 L1776.3,633.5 L1774.4,634.1 L1772.4,634.7 L1770.5,635.2 L1768.6,635.8 L1766.7,636.3 L1764.7,636.8 L1762.8,637.3 L1760.9,637.8 L1758.9,638.3 L1757.0,638.8 L1755.0,639.3 L1753.1,639.7 L1751.1,640.2 L1749.2,640.6 L1747.2,641.1 L1745.3,641.5 L1743.3,641.9 L1741.3,642.3 L1739.4,642.7 L1737.4,643.1 L1735.5,643.5 L1733.5,643.9 L1731.5,644.3 L1729.6,644.6 L1727.6,645.0 L1725.6,645.3 L1723.6,645.7 L1721.7,646.0 L1719.7,646.4 L1717.7,646.7 L1715.8,647.1 L1713.8,647.4 L1711.8,647.7 L1709.8,648.0 L1707.9,648.4 L1705.9,648.7 L1703.9,649.1 L1701.9,649.4 L1700.0,649.8 L1698.0,650.1 L1696.0,650.5 L1694.1,650.9 L1692.1,651.3 L1690.1,651.7 L1688.2,652.0 L1686.2,652.4 L1684.2,652.8 L1682.3,653.2 L1680.3,653.6 L1678.4,654.0 L1676.4,654.4 L1674.4,654.8 L1672.5,655.2 L1670.5,655.5 L1668.5,655.9 L1666.6,656.3 L1664.6,656.6 L1662.6,657.0 L1660.7,657.3 L1658.7,657.7 L1656.7,658.1 L1654.7,658.4 L1652.8,658.8 L1650.8,659.2 L1648.8,659.6 L1646.9,659.9 L1644.9,660.3 L1643.0,660.7 L1641.0,661.1 L1639.0,661.5 L1637.1,661.9 L1635.1,662.3 L1633.1,662.6 L1631.2,663.0 L1629.2,663.4 L1627.2,663.7 L1625.3,664.1 L1623.3,664.4 L1621.3,664.8 L1619.3,665.1 L1617.4,665.4 L1615.4,665.7 L1613.4,666.0 L1611.4,666.3 L1609.4,666.6 L1607.5,666.9 L1605.5,667.2 L1603.5,667.5 L1601.5,667.8 L1599.5,668.1 L1597.6,668.4 L1595.6,668.7 L1593.6,669.0 L1591.6,669.3 L1589.6,669.6 L1587.7,669.9 L1585.7,670.3 L1583.7,670.6 L1581.7,670.9 L1579.8,671.2 L1577.8,671.6 L1575.8,671.9 L1573.8,672.2 L1571.9,672.6 L1569.9,672.9 L1567.9,673.2 L1566.0,673.6 L1564.0,673.9 L1562.0,674.3 L1560.0,674.7 L1558.1,675.0 L1556.1,675.4 L1554.1,675.7 L1552.2,676.1 L1550.2,676.5 L1548.2,676.8 L1546.3,677.2 L1544.3,677.6 L1542.3,678.0 L1540.4,678.3 L1538.4,678.7 L1536.4,679.1 L1534.5,679.5 L1532.5,679.9 L1530.5,680.3 L1528.6,680.7 L1526.6,681.1 L1524.7,681.5 L1522.7,681.9 L1520.7,682.4 L1518.8,682.8 L1516.8,683.2 L1514.9,683.7 L1512.9,684.1 L1511.0,684.6 L1509.0,685.0 L1507.1,685.5 L1505.1,686.0 L1503.2,686.4 L1501.3,686.9 L1499.3,687.4 L1497.4,687.9 L1495.4,688.4 L1493.5,688.9 L1491.5,689.4 L1489.6,689.9 L1487.7,690.4 L1485.7,690.9 L1483.8,691.4 L1481.9,692.0 L1480.0,692.6 L1478.1,693.1 L1476.1,693.7 L1474.2,694.3 L1472.3,694.9 L1470.4,695.6 L1468.5,696.2 L1466.6,696.9 L1464.8,697.6 L1462.9,698.3 L1461.0,699.0 L1459.2,699.7 L1457.3,700.5 L1455.5,701.3 L1453.7,702.2 L1451.9,703.0 L1450.1,703.9 L1448.4,704.9 L1446.6,705.9 L1444.9,706.9 L1443.2,707.9 L1441.5,709.0 L1439.8,710.1 L1438.2,711.2 L1436.5,712.3 L1434.9,713.5 L1433.3,714.7 L1431.7,715.9 L1430.1,717.1 L1428.5,718.3 L1426.9,719.5 L1425.4,720.8 L1423.8,722.1 L1422.3,723.3 L1420.7,724.6 L1419.2,725.9 L1417.7,727.2 L1416.2,728.6 L1414.7,729.9 L1413.3,731.3 L1411.9,732.7 L1410.5,734.1 L1409.1,735.6 L1407.8,737.1 L1406.5,738.6 L1405.3,740.2 L1404.1,741.8 L1402.9,743.4 L1401.8,745.0 L1400.7,746.7 L1399.7,748.4 L1398.6,750.1 L1397.7,751.9 L1396.7,753.6 L1395.7,755.4 L1394.8,757.1 L1393.8,758.9 L1392.9,760.7 L1392.0,762.5 L1391.1,764.2 L1390.2,766.0 L1389.2,767.8 L1388.3,769.6 L1387.4,771.3 L1386.4,773.1 L1385.5,774.9 L1384.6,776.6 L1383.6,778.4 L1382.7,780.2 L1381.7,781.9 L1380.8,783.7 L1379.8,785.5 L1378.9,787.2 L1378.0,789.0 L1377.1,790.8 L1376.2,792.6 L1375.3,794.4 L1374.4,796.2 L1373.5,798.0 L1372.6,799.7 L1371.7,801.5 L1370.8,803.4 L1370.0,805.2 L1369.1,807.0 L1368.3,808.8 L1367.4,810.6 L1366.6,812.4 L1365.8,814.2 L1365.0,816.1 L1364.1,817.9 L1363.3,819.7 L1362.5,821.6 L1361.7,823.4 L1360.9,825.2 L1360.1,827.1 L1359.3,828.9 L1358.5,830.7 L1357.7,832.6 L1356.9,834.4 L1356.2,836.3 L1355.4,838.1 L1354.6,840.0 L1353.9,841.8 L1353.1,843.7 L1352.3,845.5 L1351.6,847.4 L1350.9,849.2 L1350.1,851.1 L1349.4,853.0 L1348.7,854.8 L1348.0,856.7 L1347.3,858.6 L1346.6,860.4 L1345.9,862.3 L1345.2,864.2 L1344.5,866.1 L1343.8,868.0 L1343.1,869.9 L1342.5,871.7 L1341.8,873.6 L1341.1,875.5 L1340.5,877.4 L1339.8,879.3 L1339.1,881.2 L1338.5,883.1 L1337.8,884.9 L1337.1,886.8 L1336.4,888.7 L1335.8,890.6 L1335.1,892.5 L1334.4,894.4 L1333.7,896.2 L1333.0,898.1 L1332.3,900.0 L1331.6,901.9 L1331.0,903.8 L1330.3,905.6 L1329.6,907.5 L1328.9,909.4 L1328.2,911.3 L1327.5,913.2 L1326.8,915.0 L1326.1,916.9 L1325.4,918.8 L1324.8,920.7 L1324.1,922.6 L1323.4,924.4 L1322.7,926.3 L1322.0,928.2 L1321.3,930.1 L1320.6,932.0 L1320.0,933.9 L1319.3,935.7 L1318.6,937.6 L1317.9,939.5 L1317.2,941.4 L1316.5,943.2 L1315.8,945.1 L1315.1,947.0 L1314.4,948.9 L1313.7,950.7 L1313.0,952.6 L1312.3,954.5 L1311.6,956.4 L1310.9,958.2 L1310.1,960.1 L1309.4,962.0 L1308.7,963.8 L1308.0,965.7 L1307.2,967.6 L1306.5,969.4 L1305.8,971.3 L1305.0,973.2 L1304.3,975.0 L1303.6,976.9 L1302.8,978.7 L1302.1,980.6 L1301.3,982.4 L1300.5,984.3 L1299.8,986.2 L1299.0,988.0 L1298.3,989.9 L1297.5,991.7 L1296.7,993.6 L1296.0,995.4 L1295.2,997.2 L1294.4,999.1 L1293.6,1000.9 L1292.8,1002.7 L1291.9,1004.6 L1291.1,1006.4 L1290.2,1008.2 L1289.4,1010.0 L1288.5,1011.8 L1287.6,1013.6 L1286.6,1015.3 L1285.7,1017.1 L1284.8,1018.9 L1283.8,1020.6 L1282.8,1022.4 L1281.8,1024.1 L1280.8,1025.9 L1279.9,1027.6 L1278.9,1029.3 L1277.9,1031.1 L1276.9,1032.8 L1275.9,1034.6 L1274.9,1036.3 L1273.9,1038.0 L1272.9,1039.8 L1272.0,1041.5 L1271.0,1043.3 L1270.0,1045.0 L1269.0,1046.8 L1268.1,1048.5 L1267.1,1050.3 L1266.0,1052.0 L1265.0,1053.7 L1263.9,1055.4 L1262.9,1057.1 L1261.8,1058.7 L1260.6,1060.4 L1259.5,1062.0 L1258.3,1063.6 L1257.1,1065.2 L1255.9,1066.8 L1254.6,1068.3 L1253.3,1069.9 L1252.0,1071.4 L1250.7,1072.9 L1249.3,1074.3 L1247.9,1075.8 L1246.5,1077.2 L1245.0,1078.6 L1243.6,1079.9 L1242.1,1081.2 L1240.6,1082.5 L1239.0,1083.8 L1237.4,1085.0 L1235.8,1086.2 L1234.2,1087.4 L1232.6,1088.5 L1230.9,1089.6 L1229.2,1090.6 L1227.5,1091.6 L1225.7,1092.6 L1224.0,1093.5 L1222.2,1094.4 L1220.4,1095.3 L1218.6,1096.1 L1216.7,1096.8 L1214.8,1097.6 L1213.0,1098.2 L1211.1,1098.8 L1209.2,1099.4 L1207.2,1099.9 L1205.3,1100.4 L1203.4,1100.8 L1201.4,1101.1 L1199.4,1101.4 L1197.5,1101.6 L1195.5,1101.7 L1193.5,1101.7 L1191.5,1101.7 L1189.6,1101.5 L1187.6,1101.3 L1185.7,1100.9 L1183.7,1100.5 L1181.8,1100.0 L1179.9,1099.5 L1178.0,1098.8 L1176.1,1098.2 L1174.3,1097.5 L1172.4,1096.7 L1170.6,1095.9 L1168.7,1095.1 L1166.9,1094.3 L1165.1,1093.4 L1163.3,1092.5 L1161.5,1091.6 L1159.8,1090.7 L1158.0,1089.8 L1156.2,1088.9 L1154.5,1087.9 L1152.7,1086.9 L1151.0,1086.0 L1149.2,1085.0 L1147.5,1084.0 L1145.7,1083.0 L1144.0,1082.0 L1142.3,1081.0 L1140.6,1079.9 L1138.9,1078.9 L1137.2,1077.8 L1135.5,1076.8 L1133.8,1075.7 L1132.1,1074.6 L1130.4,1073.5 L1128.7,1072.4 L1127.1,1071.3 L1125.4,1070.2 L1123.8,1069.0 L1122.2,1067.8 L1120.6,1066.7 L1118.9,1065.5 L1117.3,1064.3 L1115.7,1063.1 L1114.2,1061.9 L1112.6,1060.6 L1111.0,1059.4 L1109.4,1058.2 L1107.8,1057.0 L1106.2,1055.8 L1104.6,1054.5 L1103.0,1053.3 L1101.4,1052.2 L1099.8,1051.0 L1098.2,1049.8 L1096.5,1048.7 L1094.9,1047.5 L1093.3,1046.4 L1091.6,1045.2 L1089.9,1044.1 L1088.3,1043.0 L1086.6,1041.9 L1085.0,1040.7 L1083.3,1039.6 L1081.7,1038.5 L1080.0,1037.4 L1078.4,1036.2 L1076.7,1035.1 L1075.1,1034.0 L1073.4,1032.8 L1071.8,1031.6 L1070.2,1030.5 L1068.6,1029.3 L1066.9,1028.1 L1065.3,1026.9 L1063.7,1025.7 L1062.1,1024.5 L1060.5,1023.4 L1058.9,1022.2 L1057.2,1021.0 L1055.6,1019.9 L1053.9,1018.8 L1052.3,1017.6 L1050.6,1016.5 L1048.9,1015.4 L1047.3,1014.4 L1045.6,1013.3 L1043.9,1012.2 L1042.2,1011.2 L1040.4,1010.2 L1038.7,1009.1 L1037.0,1008.1 L1035.3,1007.1 L1033.5,1006.1 L1031.8,1005.2 L1030.0,1004.2 L1028.2,1003.3 L1026.5,1002.4 L1024.7,1001.4 L1022.9,1000.6 L1021.1,999.7 L1019.3,998.9 L1017.4,998.0 L1015.6,997.3 L1013.8,996.5 L1011.9,995.7 L1010.0,995.0 L1008.2,994.3 L1006.3,993.6 L1004.4,992.9 L1002.5,992.2 L1000.7,991.5 L998.8,990.9 L996.9,990.2 L995.0,989.5 L992.9,988.1 L990.8,986.7 L988.7,985.3 L986.6,983.9 L984.6,982.5 L982.5,981.0 L980.4,979.3 L978.3,977.6 L976.2,975.9 L974.1,974.1 L972.1,972.3 L970.0,970.5 L968.2,969.6 L966.4,968.8 L964.6,967.9 L962.7,967.1 L960.9,966.2 L959.1,965.4 L957.3,964.5 L955.5,963.7 L953.6,962.9 L951.8,962.1 L950.0,961.3 L948.1,960.5 L946.3,959.7 L944.4,958.9 L942.6,958.2 L940.7,957.4 L938.9,956.6 L937.0,955.9 L935.1,955.2 L933.3,954.4 L931.4,953.7 L929.5,953.0 L927.7,952.2 L925.8,951.5 L923.9,950.8 L922.0,950.1 L920.2,949.4 L918.3,948.7 L916.4,948.0 L914.5,947.3 L912.6,946.6 L910.8,945.9 L908.9,945.2 L907.0,944.5 L905.1,943.8 L903.2,943.1 L901.3,942.5 L899.5,941.8 L897.6,941.1 L895.7,940.4 L893.8,939.7 L891.9,939.0 L890.0,938.4 L888.1,937.7 L886.2,937.1 L884.3,936.5 L882.4,935.9 L880.5,935.3 L878.6,934.8 L876.6,934.2 L874.7,933.7 L872.7,933.2 L870.8,932.8 L868.8,932.3 L866.9,931.8 L864.9,931.4 L863.0,931.0 L861.0,930.5 L859.1,930.1 L857.1,929.7 L855.1,929.3 L853.2,928.9 L851.2,928.6 L849.2,928.2 L847.2,927.8 L845.3,927.5 L843.3,927.1 L841.3,926.8 L839.3,926.5 L837.4,926.2 L835.4,925.9 L833.4,925.6 L831.4,925.3 L829.4,925.0 L827.4,924.7 L825.4,924.5 L823.5,924.3 L821.5,924.0 L819.5,923.8 L817.5,923.6 L815.5,923.4 L813.5,923.2 L811.5,923.1 L809.5,922.9 L807.5,922.7 L805.5,922.6 L803.5,922.5 L801.5,922.3 L799.5,922.2 L797.5,922.1 L795.5,922.0 L793.5,921.8 L791.5,921.7 L789.5,921.6 L787.5,921.5 L785.5,921.5 L783.5,921.4 L781.5,921.3 L779.5,921.2 L777.4,921.2 L775.4,921.1 L773.4,921.1 L771.4,921.1 L769.4,921.1 L767.4,921.1 L765.4,921.1 L763.4,921.1 L761.4,921.1 L759.4,921.1 L757.4,921.2 L755.4,921.2 L753.4,921.3 L751.4,921.3 L749.4,921.4 L747.4,921.5 L745.4,921.6 L743.4,921.7 L741.4,921.8 L739.4,921.9 L737.4,922.0 L735.4,922.1 L733.4,922.3 L731.4,922.4 L729.4,922.6 L727.4,922.8 L725.4,923.0 L723.4,923.2 L721.4,923.4 L719.4,923.6 L717.4,923.8 L715.4,924.0 L713.4,924.2 L711.4,924.4 L709.4,924.7 L707.4,924.9 L705.4,925.2 L703.4,925.4 L701.5,925.7 L699.5,925.9 L697.5,926.2 L695.5,926.4 L693.5,926.7 L691.5,927.0 L689.5,927.3 L687.5,927.6 L685.6,927.9 L683.6,928.2 L681.6,928.5 L679.6,928.8 L677.6,929.1 L675.7,929.5 L673.7,929.8 L671.7,930.2 L669.7,930.6 L667.8,930.9 L665.8,931.3 L663.8,931.7 L661.9,932.1 L659.9,932.5 L657.9,932.9 L656.0,933.3 L654.0,933.7 L652.0,934.1 L650.1,934.5 L648.1,934.9 L646.2,935.3 L644.2,935.7 L642.2,936.1 L640.3,936.6 L638.3,937.0 L636.3,937.4 L634.4,937.8 L632.4,938.2 L630.5,938.6 L628.5,939.0 L626.5,939.4 L624.6,939.8 L622.6,940.2 L620.6,940.6 L618.7,941.0 L616.7,941.4 L614.7,941.8 L612.8,942.2 L610.8,942.5 L608.8,942.9 L606.9,943.3 L604.9,943.7 L602.9,944.1 L601.0,944.5 L599.0,944.9 L597.0,945.3 L595.0,945.7 L593.1,946.0 L591.1,946.4 L589.1,946.8 L587.2,947.2 L585.2,947.5 L583.2,947.9 L581.2,948.2 L579.3,948.6 L577.3,948.9 L575.3,949.2 L573.3,949.6 L571.4,949.9 L569.4,950.2 L567.4,950.5 L565.4,950.8 L563.4,951.2 L561.5,951.5 L559.5,951.8 L557.5,952.1 L555.5,952.4 L553.5,952.8 L551.6,953.1 L549.6,953.5 L547.6,953.8 L545.6,954.1 L543.7,954.5 L541.7,954.8 L539.7,955.2 L537.7,955.5 L535.8,955.9 L533.8,956.2 L531.8,956.6 L529.8,956.9 L527.9,957.3 L525.9,957.6 L523.9,957.9 L521.9,958.3 L520.0,958.6 L518.0,959.0 L516.0,959.3" fill="none" stroke="#f00" stroke-width="8.5" stroke-linecap="round" stroke-linejoin="round"/>
<path d="M522.5,949.0 L512.8,950.5 L517.0,944.5 L514.5,939.5 L516.4,939.0 L518.3,938.4 L520.3,937.8 L522.2,937.3 L524.1,936.7 L526.0,936.0 L527.8,935.3 L529.7,934.6 L531.6,933.9 L533.4,933.1 L535.2,932.3 L537.0,931.5 L538.9,930.6 L540.7,929.8 L542.5,928.9 L544.3,928.1 L546.1,927.3 L547.9,926.5 L549.8,925.7 L551.6,924.9 L553.4,924.1 L555.3,923.3 L557.1,922.5 L559.0,921.8 L560.8,921.0 L562.7,920.3 L564.6,919.6 L566.4,918.9 L568.3,918.2 L570.2,917.5 L572.1,916.8 L574.0,916.1 L575.8,915.5 L577.7,914.8 L579.6,914.2 L581.5,913.5 L583.4,912.9 L585.3,912.3 L587.2,911.7 L589.1,911.1 L591.0,910.5 L593.0,909.9 L594.9,909.3 L596.8,908.7 L598.7,908.1 L600.6,907.5 L602.5,907.0 L604.4,906.4 L606.4,905.8 L608.3,905.3 L610.2,904.7 L612.1,904.2 L614.1,903.7 L616.0,903.1 L617.9,902.6 L619.9,902.1 L621.8,901.6 L623.7,901.1 L625.7,900.6 L627.6,900.1 L629.6,899.7 L631.5,899.2 L633.5,898.7 L635.4,898.3 L637.3,897.8 L639.3,897.3 L641.2,896.9 L643.2,896.5 L645.2,896.0 L647.1,895.6 L649.1,895.2 L651.0,894.7 L653.0,894.3 L654.9,893.9 L656.9,893.5 L658.8,893.0 L660.8,892.6 L662.7,892.2 L664.7,891.8 L666.7,891.4 L668.6,890.9 L670.6,890.5 L672.5,890.1 L674.5,889.7 L676.4,889.3 L678.4,888.8 L680.4,888.4 L682.3,888.0 L684.3,887.6 L686.2,887.2 L688.2,886.7 L690.1,886.3 L692.1,885.9 L694.0,885.5 L696.0,885.1 L698.0,884.7 L699.9,884.2 L701.9,883.8 L703.8,883.4 L705.8,883.0 L707.7,882.6 L709.7,882.2 L711.7,881.8 L713.6,881.4 L715.6,881.0 L717.5,880.6 L719.5,880.2 L721.5,879.7 L723.4,879.3 L725.4,878.9 L727.3,878.5 L729.3,878.2 L731.3,877.8 L733.2,877.4 L735.2,877.0 L737.1,876.6 L739.1,876.2 L741.1,875.8 L743.0,875.4 L745.0,875.0 L747.0,874.7 L748.9,874.3 L750.9,873.9 L752.9,873.5 L754.8,873.1 L756.8,872.8 L758.7,872.4 L760.7,872.0 L762.7,871.6 L764.6,871.2 L766.6,870.9 L768.6,870.5 L770.5,870.1 L772.5,869.7 L774.5,869.4 L776.4,869.0 L778.4,868.6 L780.4,868.2 L782.3,867.8 L784.3,867.5 L786.3,867.1 L788.2,866.7 L790.2,866.3 L792.1,865.9 L794.1,865.6 L796.1,865.2 L798.0,864.8 L800.0,864.4 L802.0,864.0 L803.9,863.7 L805.9,863.3 L807.9,862.9 L809.8,862.5 L811.8,862.2 L813.8,861.8 L815.7,861.4 L817.7,861.0 L819.7,860.7 L821.6,860.3 L823.6,859.9 L825.5,859.5 L827.5,859.2 L829.5,858.8 L831.4,858.4 L833.4,858.1 L835.4,857.7 L837.4,857.4 L839.3,857.0 L841.3,856.7 L843.3,856.3 L845.2,856.0 L847.2,855.6 L849.2,855.3 L851.1,854.9 L853.1,854.6 L855.1,854.2 L857.1,853.9 L859.0,853.5 L861.0,853.2 L863.0,852.8 L864.9,852.5 L866.9,852.1 L868.9,851.8 L870.8,851.4 L872.8,851.0 L874.8,850.7 L876.7,850.3 L878.7,849.9 L880.7,849.6 L882.6,849.2 L884.6,848.8 L886.6,848.4 L888.5,848.0 L890.5,847.6 L892.4,847.2 L894.4,846.8 L896.4,846.5 L898.3,846.1 L900.3,845.7 L902.3,845.3 L904.2,844.9 L906.2,844.5 L908.1,844.0 L910.1,843.6 L912.0,843.2 L914.0,842.8 L916.0,842.4 L917.9,842.0 L919.9,841.6 L921.8,841.2 L923.8,840.8 L925.8,840.4 L927.7,840.0 L929.7,839.6 L931.6,839.2 L933.6,838.7 L935.5,838.3 L937.5,837.9 L939.5,837.5 L941.4,837.1 L943.4,836.7 L945.3,836.3 L947.3,835.8 L949.2,835.4 L951.2,835.0 L953.2,834.6 L955.1,834.2 L957.1,833.8 L959.0,833.3 L961.0,832.9 L962.9,832.5 L964.9,832.1 L966.9,831.7 L968.8,831.3 L970.8,830.8 L972.7,830.4 L974.7,830.0 L976.6,829.6 L978.6,829.2 L980.6,828.8 L982.5,828.4 L984.5,828.0 L986.4,827.6 L988.4,827.2 L990.4,826.8 L992.3,826.4 L994.3,826.0 L996.3,825.6 L998.2,825.3 L1000.2,824.9 L1002.1,824.5 L1004.1,824.1 L1006.1,823.7 L1008.0,823.3 L1010.0,822.9 L1012.0,822.6 L1013.9,822.2 L1015.9,821.8 L1017.9,821.4 L1019.8,821.0 L1021.8,820.6 L1023.7,820.2 L1025.7,819.9 L1027.7,819.5 L1029.6,819.1 L1031.6,818.7 L1033.6,818.3 L1035.5,817.9 L1037.5,817.5 L1039.4,817.1 L1041.4,816.7 L1043.4,816.3 L1045.3,815.9 L1047.3,815.5 L1049.2,815.1 L1051.2,814.7 L1053.2,814.3 L1055.1,813.9 L1057.1,813.5 L1059.0,813.0 L1061.0,812.6 L1062.9,812.2 L1064.9,811.7 L1066.8,811.3 L1068.8,810.9 L1070.7,810.4 L1072.7,810.0 L1074.7,809.6 L1076.6,809.2 L1078.6,808.8 L1080.5,808.4 L1082.5,808.0 L1084.5,807.6 L1086.4,807.2 L1088.4,806.8 L1090.3,806.4 L1092.3,806.0 L1094.3,805.6 L1096.2,805.2 L1098.2,804.9 L1100.1,804.5 L1102.1,804.1 L1104.1,803.7 L1106.0,803.3 L1108.0,802.9 L1110.0,802.5 L1111.9,802.1 L1113.9,801.7 L1115.8,801.3 L1117.8,800.9 L1119.8,800.6 L1121.7,800.2 L1123.7,799.8 L1125.7,799.4 L1127.6,799.0 L1129.6,798.6 L1131.5,798.2 L1133.5,797.8 L1135.5,797.4 L1137.4,796.9 L1139.4,796.5 L1141.3,796.1 L1143.3,795.7 L1145.2,795.3 L1147.2,794.9 L1149.2,794.5 L1151.1,794.0 L1153.1,793.6 L1155.0,793.2 L1157.0,792.8 L1158.9,792.3 L1160.9,791.9 L1162.8,791.4 L1164.8,791.0 L1166.7,790.6 L1168.7,790.1 L1170.6,789.7 L1172.6,789.3 L1174.5,788.8 L1176.5,788.4 L1178.4,788.0 L1180.4,787.5 L1182.4,787.1 L1184.3,786.6 L1186.3,786.2 L1188.2,785.8 L1190.2,785.3 L1192.1,784.9 L1194.1,784.4 L1196.0,783.9 L1197.9,783.4 L1199.9,783.0 L1201.8,782.4 L1203.7,781.9 L1205.7,781.4 L1207.6,780.9 L1209.5,780.3 L1211.4,779.8 L1213.4,779.2 L1215.3,778.6 L1217.2,778.0 L1219.1,777.4 L1221.0,776.8 L1222.9,776.1 L1224.8,775.5 L1226.7,774.8 L1228.5,774.1 L1230.4,773.5 L1232.3,772.7 L1234.2,772.0 L1236.0,771.3 L1237.9,770.6 L1239.7,769.8 L1241.6,769.0 L1243.4,768.2 L1245.2,767.4 L1247.0,766.6 L1248.8,765.7 L1250.7,764.8 L1252.4,764.0 L1254.2,763.1 L1256.0,762.1 L1257.8,761.2 L1259.5,760.3 L1261.3,759.3 L1263.0,758.3 L1264.7,757.3 L1266.5,756.3 L1268.2,755.2 L1269.9,754.2 L1271.5,753.1 L1273.2,752.0 L1274.8,750.8 L1276.4,749.6 L1278.0,748.4 L1279.6,747.2 L1281.1,745.9 L1282.7,744.7 L1284.2,743.4 L1285.7,742.0 L1287.2,740.7 L1288.7,739.4 L1290.2,738.0 L1291.6,736.7 L1293.1,735.3 L1294.5,733.9 L1296.0,732.5 L1297.4,731.1 L1298.8,729.7 L1300.2,728.3 L1301.6,726.9 L1303.0,725.4 L1304.4,724.0 L1305.8,722.5 L1307.1,721.0 L1308.4,719.5 L1309.7,718.0 L1311.0,716.5 L1312.3,715.0 L1313.5,713.4 L1314.8,711.8 L1316.0,710.2 L1317.2,708.6 L1318.4,707.0 L1319.5,705.4 L1320.7,703.8 L1321.8,702.1 L1322.9,700.5 L1324.1,698.8 L1325.2,697.1 L1326.3,695.5 L1327.3,693.8 L1328.4,692.1 L1329.5,690.4 L1330.6,688.7 L1331.6,687.0 L1332.7,685.3 L1333.7,683.6 L1334.8,681.9 L1335.8,680.2 L1336.9,678.5 L1337.9,676.8 L1339.0,675.1 L1340.0,673.4 L1341.1,671.7 L1342.1,670.0 L1343.1,668.3 L1344.2,666.6 L1345.2,664.9 L1346.3,663.1 L1347.3,661.4 L1348.4,659.7 L1349.4,658.0 L1350.5,656.3 L1351.5,654.6 L1352.6,652.9 L1353.6,651.2 L1354.7,649.5 L1355.7,647.8 L1356.8,646.1 L1357.8,644.4 L1358.8,642.7 L1359.9,641.0 L1360.9,639.3 L1361.9,637.5 L1362.9,635.8 L1363.9,634.1 L1364.9,632.3 L1365.9,630.6 L1366.9,628.9 L1367.8,627.1 L1368.8,625.3 L1369.7,623.6 L1370.7,621.8 L1371.6,620.1 L1372.6,618.3 L1373.5,616.5 L1374.4,614.7 L1375.4,613.0 L1376.3,611.2 L1377.2,609.4 L1378.1,607.6 L1379.0,605.9 L1379.9,604.1 L1380.9,602.3 L1381.8,600.5 L1382.7,598.7 L1383.6,597.0 L1384.5,595.2 L1385.4,593.4 L1386.3,591.6 L1387.2,589.8 L1388.1,588.0 L1389.0,586.2 L1389.9,584.5 L1390.8,582.7 L1391.7,580.9 L1392.6,579.1 L1393.5,577.3 L1394.4,575.5 L1395.3,573.7 L1396.2,571.9 L1397.1,570.2 L1398.0,568.4 L1398.8,566.6 L1399.7,564.8 L1400.6,563.0 L1401.5,561.2 L1402.3,559.4 L1403.2,557.5 L1404.0,555.7 L1404.9,553.9 L1405.7,552.1 L1406.5,550.3 L1407.4,548.5 L1408.2,546.6 L1409.0,544.8 L1409.9,543.0 L1410.7,541.2 L1411.5,539.4 L1412.4,537.5 L1413.2,535.7 L1414.0,533.9 L1414.9,532.1 L1415.7,530.3 L1416.6,528.5 L1417.4,526.7 L1418.3,524.9 L1419.1,523.0 L1420.0,521.2 L1420.8,519.4 L1421.7,517.6 L1422.6,515.8 L1423.4,514.0 L1424.3,512.2 L1425.1,510.4 L1426.0,508.6 L1426.8,506.8 L1427.7,505.0 L1428.5,503.2 L1429.4,501.3 L1430.2,499.5 L1431.1,497.7 L1431.9,495.9 L1432.8,494.1 L1433.7,492.3 L1434.5,490.5 L1435.4,488.7 L1436.2,486.9 L1437.1,485.1 L1437.9,483.3 L1438.8,481.5 L1439.7,479.7 L1440.6,477.9 L1441.4,476.1 L1442.3,474.3 L1443.2,472.5 L1444.1,470.7 L1445.0,468.9 L1445.9,467.1 L1446.8,465.3 L1447.7,463.5 L1448.6,461.7 L1449.5,459.9 L1450.4,458.2 L1451.3,456.4 L1452.2,454.6 L1453.2,452.9 L1454.1,451.1 L1455.1,449.3 L1456.0,447.6 L1457.0,445.8 L1458.0,444.1 L1459.0,442.3 L1460.0,440.6 L1461.0,438.9 L1462.0,437.2 L1463.0,435.5 L1464.1,433.8 L1465.2,432.1 L1466.2,430.4 L1467.3,428.7 L1468.5,427.0 L1469.6,425.4 L1470.7,423.7 L1471.8,422.1 L1473.0,420.5 L1474.1,418.8 L1475.3,417.2 L1476.5,415.6 L1477.7,414.0 L1478.8,412.4 L1480.0,410.7 L1481.3,409.2 L1482.5,407.6 L1483.7,406.0 L1485.0,404.5 L1486.3,403.0 L1487.6,401.5 L1489.0,400.0 L1490.4,398.6 L1491.8,397.2 L1493.3,395.8 L1494.8,394.5 L1496.3,393.3 L1497.9,392.0 L1499.5,390.9 L1501.1,389.7 L1502.8,388.7 L1504.5,387.7 L1506.2,386.7 L1508.0,385.9 L1509.8,385.1 L1511.7,384.3 L1513.5,383.7 L1515.4,383.2 L1517.3,382.7 L1519.3,382.4 L1521.2,382.2 L1523.2,382.1 L1525.1,382.1 L1527.1,382.2 L1529.1,382.4 L1531.0,382.7 L1532.9,383.1 L1534.8,383.6 L1536.7,384.2 L1538.6,384.8 L1540.5,385.6 L1542.3,386.3 L1544.1,387.2 L1545.9,388.0 L1547.7,389.0 L1549.4,390.0 L1551.1,391.0 L1552.8,392.0 L1554.5,393.1 L1556.1,394.2 L1557.8,395.4 L1559.4,396.6 L1561.0,397.8 L1562.5,399.0 L1564.1,400.3 L1565.6,401.6 L1567.1,402.9 L1568.6,404.2 L1570.1,405.5 L1571.6,406.8 L1573.1,408.2 L1574.6,409.5 L1576.0,410.9 L1577.5,412.2 L1579.0,413.6 L1580.5,414.9 L1582.0,416.2 L1583.5,417.6 L1584.9,418.9 L1586.4,420.3 L1587.9,421.6 L1589.4,423.0 L1590.8,424.3 L1592.3,425.7 L1593.7,427.1 L1595.2,428.5 L1596.7,429.8 L1598.1,431.2 L1599.6,432.6 L1601.0,434.0 L1602.4,435.4 L1603.9,436.7 L1605.3,438.1 L1606.8,439.5 L1608.2,440.9 L1609.7,442.3 L1611.1,443.7 L1612.5,445.1 L1614.0,446.4 L1615.4,447.8 L1616.9,449.2 L1618.3,450.6 L1619.8,452.0 L1621.2,453.4 L1622.7,454.8 L1624.1,456.1 L1625.6,457.5 L1627.0,458.9 L1628.5,460.2 L1629.9,461.6 L1631.4,463.0 L1632.9,464.3 L1634.3,465.7 L1635.8,467.1 L1637.3,468.4 L1638.7,469.8 L1640.2,471.1 L1641.7,472.5 L1643.2,473.8 L1644.7,475.1 L1646.2,476.5 L1647.7,477.8 L1649.2,479.1 L1650.7,480.4 L1652.2,481.7 L1653.8,483.0 L1655.3,484.2 L1656.9,485.5 L1658.4,486.8 L1660.0,488.0 L1661.5,489.3 L1663.1,490.5 L1664.7,491.7 L1666.3,492.9 L1667.9,494.1 L1669.5,495.3 L1671.1,496.5 L1672.7,497.7 L1674.3,498.9 L1675.9,500.1 L1677.6,501.2 L1679.2,502.4 L1680.8,503.6 L1682.5,504.7 L1684.1,505.8 L1685.8,506.9 L1687.4,508.1 L1689.1,509.2 L1690.8,510.3 L1692.5,511.4 L1694.1,512.4 L1695.8,513.5 L1697.5,514.6 L1699.2,515.6 L1700.9,516.7 L1702.6,517.7 L1704.4,518.7 L1706.1,519.7 L1707.8,520.7 L1709.5,521.7 L1711.3,522.7 L1713.0,523.7 L1714.8,524.6 L1716.6,525.6 L1718.3,526.5 L1720.1,527.5 L1721.9,528.4 L1723.7,529.3 L1725.4,530.2 L1727.2,531.1 L1729.0,531.9 L1730.8,532.8 L1732.7,533.6 L1734.5,534.5 L1736.3,535.3 L1738.1,536.1 L1739.9,537.0 L1741.8,537.8 L1743.6,538.6 L1745.4,539.4 L1747.3,540.2 L1749.1,540.9 L1751.0,541.7 L1752.8,542.5 L1754.6,543.3 L1756.5,544.0 L1758.4,544.8 L1760.2,545.5 L1762.1,546.2 L1763.9,546.9 L1765.8,547.7 L1767.7,548.4 L1769.6,549.0 L1771.4,549.7 L1773.3,550.4 L1775.2,551.0 L1777.1,551.7 L1779.0,552.3 L1780.9,552.9 L1782.8,553.5 L1784.8,554.1 L1786.7,554.6 L1788.6,555.2 L1790.5,555.7 L1792.4,556.3 L1794.4,556.8 L1796.3,557.3 L1798.2,557.8 L1800.2,558.4 L1802.1,558.9 L1804.0,559.4 L1806.0,559.9 L1807.9,560.4 L1809.8,560.9 L1811.8,561.4 L1813.7,562.0 L1815.6,562.5 L1817.6,563.0 L1819.5,563.5 L1821.4,564.0 L1823.4,564.5 L1825.3,565.0 L1827.2,565.5 L1829.2,566.0 L1831.1,566.5 L1833.1,567.0 L1835.0,567.5 L1834.0,569.2 L1833.0,570.8 L1831.9,572.4 L1830.7,574.0 L1829.5,575.5 L1828.2,576.9 L1826.8,578.3 L1825.3,579.6 L1823.8,580.9 L1822.3,582.2 L1820.7,583.5 L1819.2,584.7 L1817.6,585.9 L1816.0,587.2 L1814.4,588.3 L1812.7,589.5 L1811.1,590.6 L1809.4,591.6 L1807.7,592.7 L1806.0,593.7 L1804.2,594.6 L1802.4,595.6 L1800.7,596.5 L1798.9,597.4 L1797.1,598.2 L1795.2,599.1 L1793.4,599.9 L1791.6,600.7 L1789.7,601.5 L1787.9,602.2 L1786.0,603.0 L1784.2,603.8 L1782.3,604.5 L1780.5,605.3 L1778.6,606.0 L1776.8,606.8 L1774.9,607.5 L1773.1,608.3 L1771.2,609.1 L1769.4,609.8 L1767.5,610.6 L1765.6,611.3 L1763.8,612.1 L1761.9,612.8 L1760.1,613.6 L1758.2,614.3 L1756.3,615.0 L1754.5,615.7 L1752.6,616.5 L1750.7,617.2 L1748.9,617.9 L1747.0,618.6 L1745.1,619.2 L1743.2,619.9 L1741.3,620.6 L1739.4,621.3 L1737.6,621.9 L1735.7,622.6 L1733.8,623.2 L1731.9,623.9 L1730.0,624.5 L1728.1,625.2 L1726.2,625.8 L1724.3,626.4 L1722.4,627.1 L1720.5,627.7 L1718.6,628.3 L1716.7,628.9 L1714.8,629.5 L1712.9,630.1 L1710.9,630.8 L1709.0,631.4 L1707.1,632.0 L1705.2,632.6 L1703.3,633.2 L1701.4,633.7 L1699.5,634.3 L1697.6,634.9 L1695.6,635.5 L1693.7,636.1 L1691.8,636.6 L1689.9,637.2 L1688.0,637.8 L1686.0,638.3 L1684.1,638.9 L1682.2,639.4 L1680.3,640.0 L1678.3,640.5 L1676.4,641.1 L1674.5,641.6 L1672.6,642.2 L1670.6,642.7 L1668.7,643.2 L1666.8,643.8 L1664.8,644.3 L1662.9,644.9 L1661.0,645.4 L1659.1,645.9 L1657.1,646.5 L1655.2,647.0 L1653.3,647.6 L1651.4,648.2 L1649.4,648.7 L1647.5,649.3 L1645.6,649.9 L1643.7,650.5 L1641.8,651.1 L1639.9,651.7 L1638.0,652.3 L1636.1,652.9 L1634.2,653.5 L1632.3,654.1 L1630.4,654.8 L1628.4,655.4 L1626.5,656.0 L1624.6,656.6 L1622.7,657.3 L1620.8,657.9 L1618.9,658.5 L1617.0,659.2 L1615.2,659.8 L1613.3,660.4 L1611.4,661.1 L1609.5,661.7 L1607.6,662.4 L1605.7,663.0 L1603.8,663.7 L1601.9,664.4 L1600.0,665.0 L1598.1,665.7 L1596.2,666.3 L1594.3,667.0 L1592.4,667.7 L1590.6,668.4 L1588.7,669.0 L1586.8,669.7 L1584.9,670.4 L1583.0,671.1 L1581.1,671.8 L1579.3,672.4 L1577.4,673.1 L1575.5,673.8 L1573.6,674.5 L1571.8,675.2 L1569.9,675.9 L1568.0,676.6 L1566.1,677.3 L1564.2,678.0 L1562.4,678.7 L1560.5,679.4 L1558.6,680.2 L1556.8,680.9 L1554.9,681.6 L1553.0,682.3 L1551.2,683.1 L1549.3,683.8 L1547.5,684.6 L1545.6,685.3 L1543.8,686.1 L1541.9,686.9 L1540.1,687.6 L1538.2,688.4 L1536.4,689.2 L1534.5,690.0 L1532.7,690.7 L1530.8,691.5 L1529.0,692.3 L1527.1,693.1 L1525.3,693.9 L1523.5,694.6 L1521.6,695.4 L1519.8,696.2 L1517.9,697.0 L1516.1,697.7 L1514.2,698.5 L1512.4,699.3 L1510.5,700.0 L1508.7,700.8 L1506.8,701.6 L1505.0,702.3 L1503.1,703.1 L1501.3,703.9 L1499.4,704.6 L1497.6,705.4 L1495.7,706.2 L1493.9,706.9 L1492.0,707.7 L1490.2,708.4 L1488.3,709.2 L1486.4,709.9 L1484.6,710.7 L1482.7,711.5 L1480.9,712.2 L1479.0,713.0 L1477.2,713.7 L1475.3,714.5 L1473.5,715.2 L1471.6,715.9 L1469.7,716.7 L1467.9,717.4 L1466.0,718.2 L1464.2,718.9 L1462.3,719.7 L1460.4,720.4 L1458.6,721.2 L1456.7,721.9 L1454.9,722.7 L1453.0,723.5 L1451.2,724.2 L1449.3,725.0 L1447.5,725.8 L1445.7,726.6 L1443.8,727.4 L1442.0,728.2 L1440.2,729.1 L1438.4,729.9 L1436.5,730.7 L1434.7,731.6 L1432.9,732.4 L1431.1,733.3 L1429.3,734.2 L1427.5,735.1 L1425.8,736.0 L1424.0,737.0 L1422.3,737.9 L1420.5,739.0 L1418.8,740.0 L1417.2,741.1 L1415.5,742.2 L1413.8,743.3 L1412.2,744.4 L1410.6,745.6 L1408.9,746.8 L1407.3,748.0 L1405.7,749.2 L1404.1,750.4 L1402.5,751.6 L1400.9,752.7 L1399.3,753.9 L1397.7,755.1 L1396.0,756.3 L1394.4,757.4 L1392.8,758.6 L1391.1,759.7 L1389.5,760.9 L1387.8,762.0 L1386.2,763.2 L1384.6,764.3 L1382.9,765.5 L1381.3,766.7 L1379.7,767.8 L1378.1,769.0 L1376.5,770.2 L1374.9,771.4 L1373.3,772.6 L1371.7,773.8 L1370.1,775.0 L1368.5,776.2 L1366.9,777.5 L1365.3,778.7 L1363.7,779.9 L1362.2,781.2 L1360.6,782.4 L1359.0,783.7 L1357.5,784.9 L1355.9,786.2 L1354.4,787.4 L1352.8,788.7 L1351.3,790.0 L1349.7,791.3 L1348.2,792.5 L1346.6,793.8 L1345.1,795.1 L1343.6,796.4 L1342.0,797.7 L1340.5,799.0 L1339.0,800.3 L1337.5,801.6 L1336.0,802.9 L1334.4,804.2 L1332.9,805.5 L1331.4,806.8 L1329.9,808.2 L1328.4,809.5 L1326.9,810.8 L1325.5,812.2 L1324.0,813.5 L1322.5,814.9 L1321.0,816.2 L1319.6,817.6 L1318.1,819.0 L1316.6,820.3 L1315.2,821.7 L1313.7,823.1 L1312.3,824.5 L1310.9,825.9 L1309.4,827.2 L1308.0,828.6 L1306.5,830.0 L1305.1,831.4 L1303.6,832.8 L1302.2,834.2 L1300.7,835.6 L1299.3,837.0 L1297.8,838.3 L1296.4,839.7 L1294.9,841.1 L1293.5,842.5 L1292.0,843.9 L1290.6,845.2 L1289.1,846.6 L1287.7,848.0 L1286.2,849.4 L1284.8,850.7 L1283.3,852.1 L1281.9,853.5 L1280.4,854.9 L1279.0,856.3 L1277.5,857.6 L1276.0,859.0 L1274.6,860.4 L1273.1,861.8 L1271.7,863.1 L1270.2,864.5 L1268.8,865.9 L1267.3,867.2 L1265.8,868.6 L1264.4,870.0 L1262.9,871.4 L1261.5,872.7 L1260.0,874.1 L1258.5,875.5 L1257.1,876.8 L1255.6,878.2 L1254.2,879.6 L1252.7,881.0 L1251.3,882.3 L1249.8,883.7 L1248.3,885.1 L1246.9,886.4 L1245.4,887.8 L1244.0,889.2 L1242.5,890.6 L1241.0,891.9 L1239.6,893.3 L1238.1,894.7 L1236.7,896.0 L1235.2,897.4 L1233.7,898.8 L1232.3,900.2 L1230.8,901.5 L1229.4,902.9 L1227.9,904.3 L1226.4,905.6 L1225.0,907.0 L1223.5,908.4 L1222.1,909.7 L1220.6,911.1 L1219.1,912.5 L1217.7,913.9 L1216.2,915.2 L1214.8,916.6 L1213.3,918.0 L1211.8,919.3 L1210.4,920.7 L1208.9,922.1 L1207.5,923.4 L1206.0,924.8 L1204.5,926.2 L1203.1,927.6 L1201.6,929.0 L1200.2,930.3 L1198.7,931.7 L1197.3,933.1 L1195.9,934.5 L1194.4,935.9 L1193.0,937.3 L1191.5,938.7 L1190.1,940.1 L1188.7,941.4 L1187.2,942.8 L1185.8,944.2 L1184.3,945.6 L1182.9,947.0 L1181.5,948.4 L1180.1,949.8 L1178.6,951.2 L1177.2,952.7 L1175.8,954.1 L1174.4,955.5 L1172.9,956.9 L1171.5,958.3 L1170.1,959.7 L1168.7,961.2 L1167.3,962.6 L1165.9,964.0 L1164.5,965.4 L1163.1,966.9 L1161.7,968.3 L1160.3,969.7 L1158.9,971.1 L1157.5,972.6 L1156.1,974.0 L1154.6,975.4 L1153.2,976.8 L1151.8,978.2 L1150.3,979.6 L1148.9,981.0 L1147.5,982.4 L1146.0,983.8 L1144.6,985.1 L1143.1,986.5 L1141.6,987.9 L1140.2,989.2 L1138.7,990.6 L1137.2,991.9 L1135.7,993.3 L1134.3,994.6 L1132.8,996.0 L1131.3,997.3 L1129.8,998.7 L1128.3,1000.0 L1126.8,1001.4 L1125.3,1002.7 L1123.9,1004.0 L1122.4,1005.4 L1120.9,1006.7 L1119.4,1008.0 L1117.9,1009.4 L1116.4,1010.7 L1114.9,1012.0 L1113.4,1013.4 L1111.9,1014.7 L1110.4,1016.0 L1108.8,1017.3 L1107.3,1018.6 L1105.8,1019.8 L1104.2,1021.1 L1102.6,1022.3 L1101.0,1023.5 L1099.4,1024.8 L1097.8,1025.9 L1096.2,1027.1 L1094.6,1028.3 L1092.9,1029.4 L1091.3,1030.6 L1089.6,1031.7 L1088.0,1032.8 L1086.3,1033.8 L1084.6,1034.9 L1082.9,1035.9 L1081.1,1036.9 L1079.4,1037.9 L1077.6,1038.9 L1075.9,1039.8 L1074.1,1040.8 L1072.3,1041.7 L1070.5,1042.5 L1068.7,1043.4 L1066.9,1044.2 L1065.1,1045.0 L1063.2,1045.8 L1061.3,1046.5 L1059.5,1047.2 L1057.6,1047.9 L1055.7,1048.5 L1053.8,1049.1 L1051.9,1049.7 L1050.0,1050.2 L1048.0,1050.7 L1046.1,1051.2 L1044.1,1051.6 L1042.2,1052.0 L1040.2,1052.3 L1038.2,1052.6 L1036.2,1052.9 L1034.3,1053.1 L1032.3,1053.2 L1030.3,1053.3 L1028.3,1053.4 L1026.3,1053.4 L1024.3,1053.4 L1022.3,1053.3 L1020.3,1053.2 L1018.3,1053.1 L1016.3,1052.9 L1014.3,1052.7 L1012.3,1052.5 L1010.4,1052.2 L1008.4,1051.9 L1006.4,1051.6 L1004.4,1051.2 L1002.5,1050.8 L1000.5,1050.4 L998.6,1050.0 L996.6,1049.6 L994.7,1049.1 L992.7,1048.6 L990.8,1048.0 L988.9,1047.5 L987.0,1046.9 L985.1,1046.3 L983.1,1045.7 L981.2,1045.1 L979.4,1044.4 L977.5,1043.8 L975.6,1043.1 L973.7,1042.4 L971.8,1041.7 L970.0,1041.0 L968.1,1040.3 L966.2,1039.5 L964.4,1038.8 L962.5,1038.0 L960.7,1037.2 L958.9,1036.4 L957.0,1035.6 L955.2,1034.8 L953.4,1034.0 L951.5,1033.1 L949.7,1032.3 L947.9,1031.4 L946.1,1030.6 L944.3,1029.7 L942.5,1028.8 L940.7,1027.9 L938.9,1027.0 L937.2,1026.1 L935.4,1025.2 L933.6,1024.3 L931.8,1023.4 L930.0,1022.5 L928.2,1021.6 L926.4,1020.8 L924.6,1019.9 L922.8,1019.0 L921.0,1018.2 L919.2,1017.3 L917.3,1016.5 L915.5,1015.7 L913.7,1014.8 L911.9,1014.0 L910.1,1013.2 L908.2,1012.4 L906.4,1011.5 L904.6,1010.7 L902.7,1009.9 L900.9,1009.1 L899.1,1008.3 L897.3,1007.5 L895.4,1006.6 L893.6,1005.8 L891.8,1005.0 L889.9,1004.2 L888.1,1003.4 L886.2,1002.6 L884.4,1001.9 L882.6,1001.1 L880.7,1000.4 L878.8,999.6 L877.0,998.9 L875.1,998.2 L873.2,997.5 L871.4,996.7 L869.5,996.0 L867.6,995.4 L865.7,994.7 L863.8,994.0 L862.0,993.3 L860.1,992.6 L858.2,992.0 L856.3,991.3 L854.4,990.6 L852.5,990.0 L850.6,989.3 L848.7,988.7 L846.8,988.0 L844.9,987.4 L843.0,986.8 L841.1,986.1 L839.2,985.5 L837.3,984.9 L835.4,984.3 L833.5,983.7 L831.6,983.1 L829.7,982.5 L827.8,981.9 L825.9,981.3 L823.9,980.7 L822.0,980.1 L820.1,979.6 L818.2,979.0 L816.3,978.5 L814.3,977.9 L812.4,977.4 L810.5,976.9 L808.5,976.4 L806.6,975.8 L804.7,975.3 L802.7,974.8 L800.8,974.3 L798.9,973.8 L796.9,973.2 L795.0,972.7 L793.1,972.2 L791.1,971.7 L789.2,971.2 L787.3,970.7 L785.3,970.1 L783.4,969.6 L781.5,969.1 L779.5,968.5 L777.6,968.0 L775.7,967.5 L773.7,966.9 L771.8,966.4 L769.9,965.8 L768.0,965.3 L766.1,964.7 L764.1,964.1 L762.2,963.6 L760.3,963.0 L758.4,962.5 L756.4,961.9 L754.5,961.4 L752.6,960.8 L750.7,960.3 L748.7,959.7 L746.8,959.2 L744.9,958.6 L742.9,958.1 L741.0,957.6 L739.1,957.1 L737.1,956.6 L735.2,956.1 L733.3,955.6 L731.3,955.1 L729.4,954.6 L727.4,954.1 L725.5,953.7 L723.5,953.2 L721.6,952.8 L719.6,952.4 L717.7,951.9 L715.7,951.5 L713.7,951.1 L711.8,950.7 L709.8,950.3 L707.9,949.9 L705.9,949.5 L703.9,949.1 L702.0,948.7 L700.0,948.4 L698.0,948.0 L696.1,947.6 L694.1,947.3 L692.1,946.9 L690.2,946.6 L688.2,946.2 L686.2,945.9 L684.2,945.5 L682.3,945.2 L680.3,944.9 L678.3,944.6 L676.3,944.3 L674.3,944.0 L672.4,943.7 L670.4,943.4 L668.4,943.1 L666.4,942.9 L664.4,942.6 L662.4,942.4 L660.5,942.1 L658.5,941.9 L656.5,941.7 L654.5,941.5 L652.5,941.3 L650.5,941.1 L648.5,940.9 L646.5,940.8 L644.5,940.6 L642.5,940.4 L640.5,940.3 L638.5,940.1 L636.5,940.0 L634.5,939.8 L632.5,939.7 L630.5,939.5 L628.5,939.4 L626.5,939.2 L624.5,939.1 L622.5,939.0 L620.5,938.8 L618.5,938.7 L616.5,938.5 L614.6,938.4 L612.6,938.3 L610.6,938.2 L608.6,938.0 L606.6,937.9 L604.6,937.8 L602.6,937.7 L600.6,937.6 L598.6,937.5 L596.6,937.3 L594.6,937.2 L592.6,937.2 L590.6,937.1 L588.6,937.0 L586.6,936.9 L584.6,936.9 L582.6,936.8 L580.6,936.8 L578.6,936.8 L576.6,936.8 L574.5,936.8 L572.5,936.8 L570.5,936.9 L568.5,936.9 L566.5,936.9 L564.5,937.0 L562.5,937.1 L560.5,937.1 L558.5,937.2 L556.5,937.2 L554.5,937.3 L552.5,937.4 L550.5,937.4 L548.5,937.5 L546.5,937.5 L544.5,937.6 L542.5,937.6 L540.5,937.7 L538.5,937.8 L536.5,937.8 L534.5,937.9 L532.5,937.9 L530.5,938.0 L528.5,938.0 L526.5,938.1 L524.5,938.1 L522.5,938.2 L520.5,938.2 L518.5,938.3 L516.5,938.3 L514.5,938.4" fill="none" stroke="#00f" stroke-width="8.5" stroke-linecap="round" stroke-linejoin="round"/>
<g stroke="#000" stroke-width="5" stroke-linecap="round" stroke-linejoin="round" fill="none">
<path d="M402.0,66.6 L402.0,1322.2 L1945.1,1322.2"/>
<path d="M378.8,66.6 L402.0,66.6 M390.4,136.4 L402.0,136.4 M378.8,206.1 L402.0,206.1 M390.4,275.9 L402.0,275.9 M378.8,345.6 L402.0,345.6 M390.4,415.4 L402.0,415.4 M378.8,485.1 L402.0,485.1 M390.4,554.9 L402.0,554.9 M378.8,624.6 L402.0,624.6 M390.4,694.4 L402.0,694.4 M378.8,764.2 L402.0,764.2 M390.4,833.9 L402.0,833.9 M378.8,903.7 L402.0,903.7 M390.4,973.4 L402.0,973.4 M378.8,1043.2 L402.0,1043.2 M390.4,1112.9 L402.0,1112.9 M378.8,1182.7 L402.0,1182.7 M390.4,1252.4 L402.0,1252.4 M378.8,1322.2 L402.0,1322.2 M402.0,1322.2 L402.0,1333.0 M512.2,1322.2 L512.2,1345.2 M622.5,1322.2 L622.5,1333.0 M732.7,1322.2 L732.7,1345.2 M842.9,1322.2 L842.9,1333.0 M953.1,1322.2 L953.1,1345.2 M1063.3,1322.2 L1063.3,1333.0 M1173.6,1322.2 L1173.6,1345.2 M1283.8,1322.2 L1283.8,1333.0 M1394.0,1322.2 L1394.0,1345.2 M1504.2,1322.2 L1504.2,1333.0 M1614.5,1322.2 L1614.5,1345.2 M1724.7,1322.2 L1724.7,1333.0 M1834.9,1322.2 L1834.9,1345.2 M1945.2,1322.2 L1945.2,1333.0"/>
</g>
<g font-family="'Liberation Sans', sans-serif" font-weight="bold" fill="#000">
<text transform="translate(360.4,82.7) scale(0.981,1)" font-size="57.3" text-anchor="end">0.00025</text>
<text transform="translate(360.4,222.2) scale(0.981,1)" font-size="57.3" text-anchor="end">0.00020</text>
<text transform="translate(360.4,361.7) scale(0.981,1)" font-size="57.3" text-anchor="end">0.00015</text>
<text transform="translate(360.4,501.2) scale(0.981,1)" font-size="57.3" text-anchor="end">0.00010</text>
<text transform="translate(360.4,640.7) scale(0.981,1)" font-size="57.3" text-anchor="end">0.00005</text>
<text transform="translate(360.4,780.3) scale(0.981,1)" font-size="57.3" text-anchor="end">0.00000</text>
<text transform="translate(360.4,919.8) scale(0.981,1)" font-size="57.3" text-anchor="end">-0.00005</text>
<text transform="translate(360.4,1059.3) scale(0.981,1)" font-size="57.3" text-anchor="end">-0.00010</text>
<text transform="translate(360.4,1198.8) scale(0.981,1)" font-size="57.3" text-anchor="end">-0.00015</text>
<text transform="translate(360.4,1338.3) scale(0.981,1)" font-size="57.3" text-anchor="end">-0.00020</text>
<text transform="translate(512.2,1406.7) scale(0.981,1)" font-size="57.3" text-anchor="middle">-0.6</text>
<text transform="translate(732.7,1406.7) scale(0.981,1)" font-size="57.3" text-anchor="middle">-0.4</text>
<text transform="translate(953.1,1406.7) scale(0.981,1)" font-size="57.3" text-anchor="middle">-0.2</text>
<text transform="translate(1173.6,1406.7) scale(0.981,1)" font-size="57.3" text-anchor="middle">0.0</text>
<text transform="translate(1394.0,1406.7) scale(0.981,1)" font-size="57.3" text-anchor="middle">0.2</text>
<text transform="translate(1614.5,1406.7) scale(0.981,1)" font-size="57.3" text-anchor="middle">0.4</text>
<text transform="translate(1834.9,1406.7) scale(0.981,1)" font-size="57.3" text-anchor="middle">0.6</text>
<text x="1172.6" y="1511" font-size="62" text-anchor="middle">E(V) vs Ag/AgCl</text>
<text transform="translate(47,735.6) rotate(-90) scale(0.972,1)" font-size="65" text-anchor="middle">Current (A)</text>
<rect x="1482.4" y="1.4" width="524.8" height="224.9" fill="#fff" stroke="#000" stroke-width="1.8"/>
<path d="M1510,45.3 L1633,45.3" stroke="#000" stroke-width="10" stroke-linecap="round"/>
<text transform="translate(1649.6,63.5) scale(0.975,1)" font-size="60.6">Bare Au</text>
<path d="M1510,119.5 L1633,119.5" stroke="#f00" stroke-width="10" stroke-linecap="round"/>
<text transform="translate(1649.6,137.9) scale(0.975,1)" font-size="60.6">Au/Apt</text>
<path d="M1510,193.5 L1633,193.5" stroke="#00f" stroke-width="10" stroke-linecap="round"/>
<text transform="translate(1649.6,211.7) scale(0.975,1)" font-size="60.6">Au/Apt/MCH</text>
</g>
</svg>
</body></html>
